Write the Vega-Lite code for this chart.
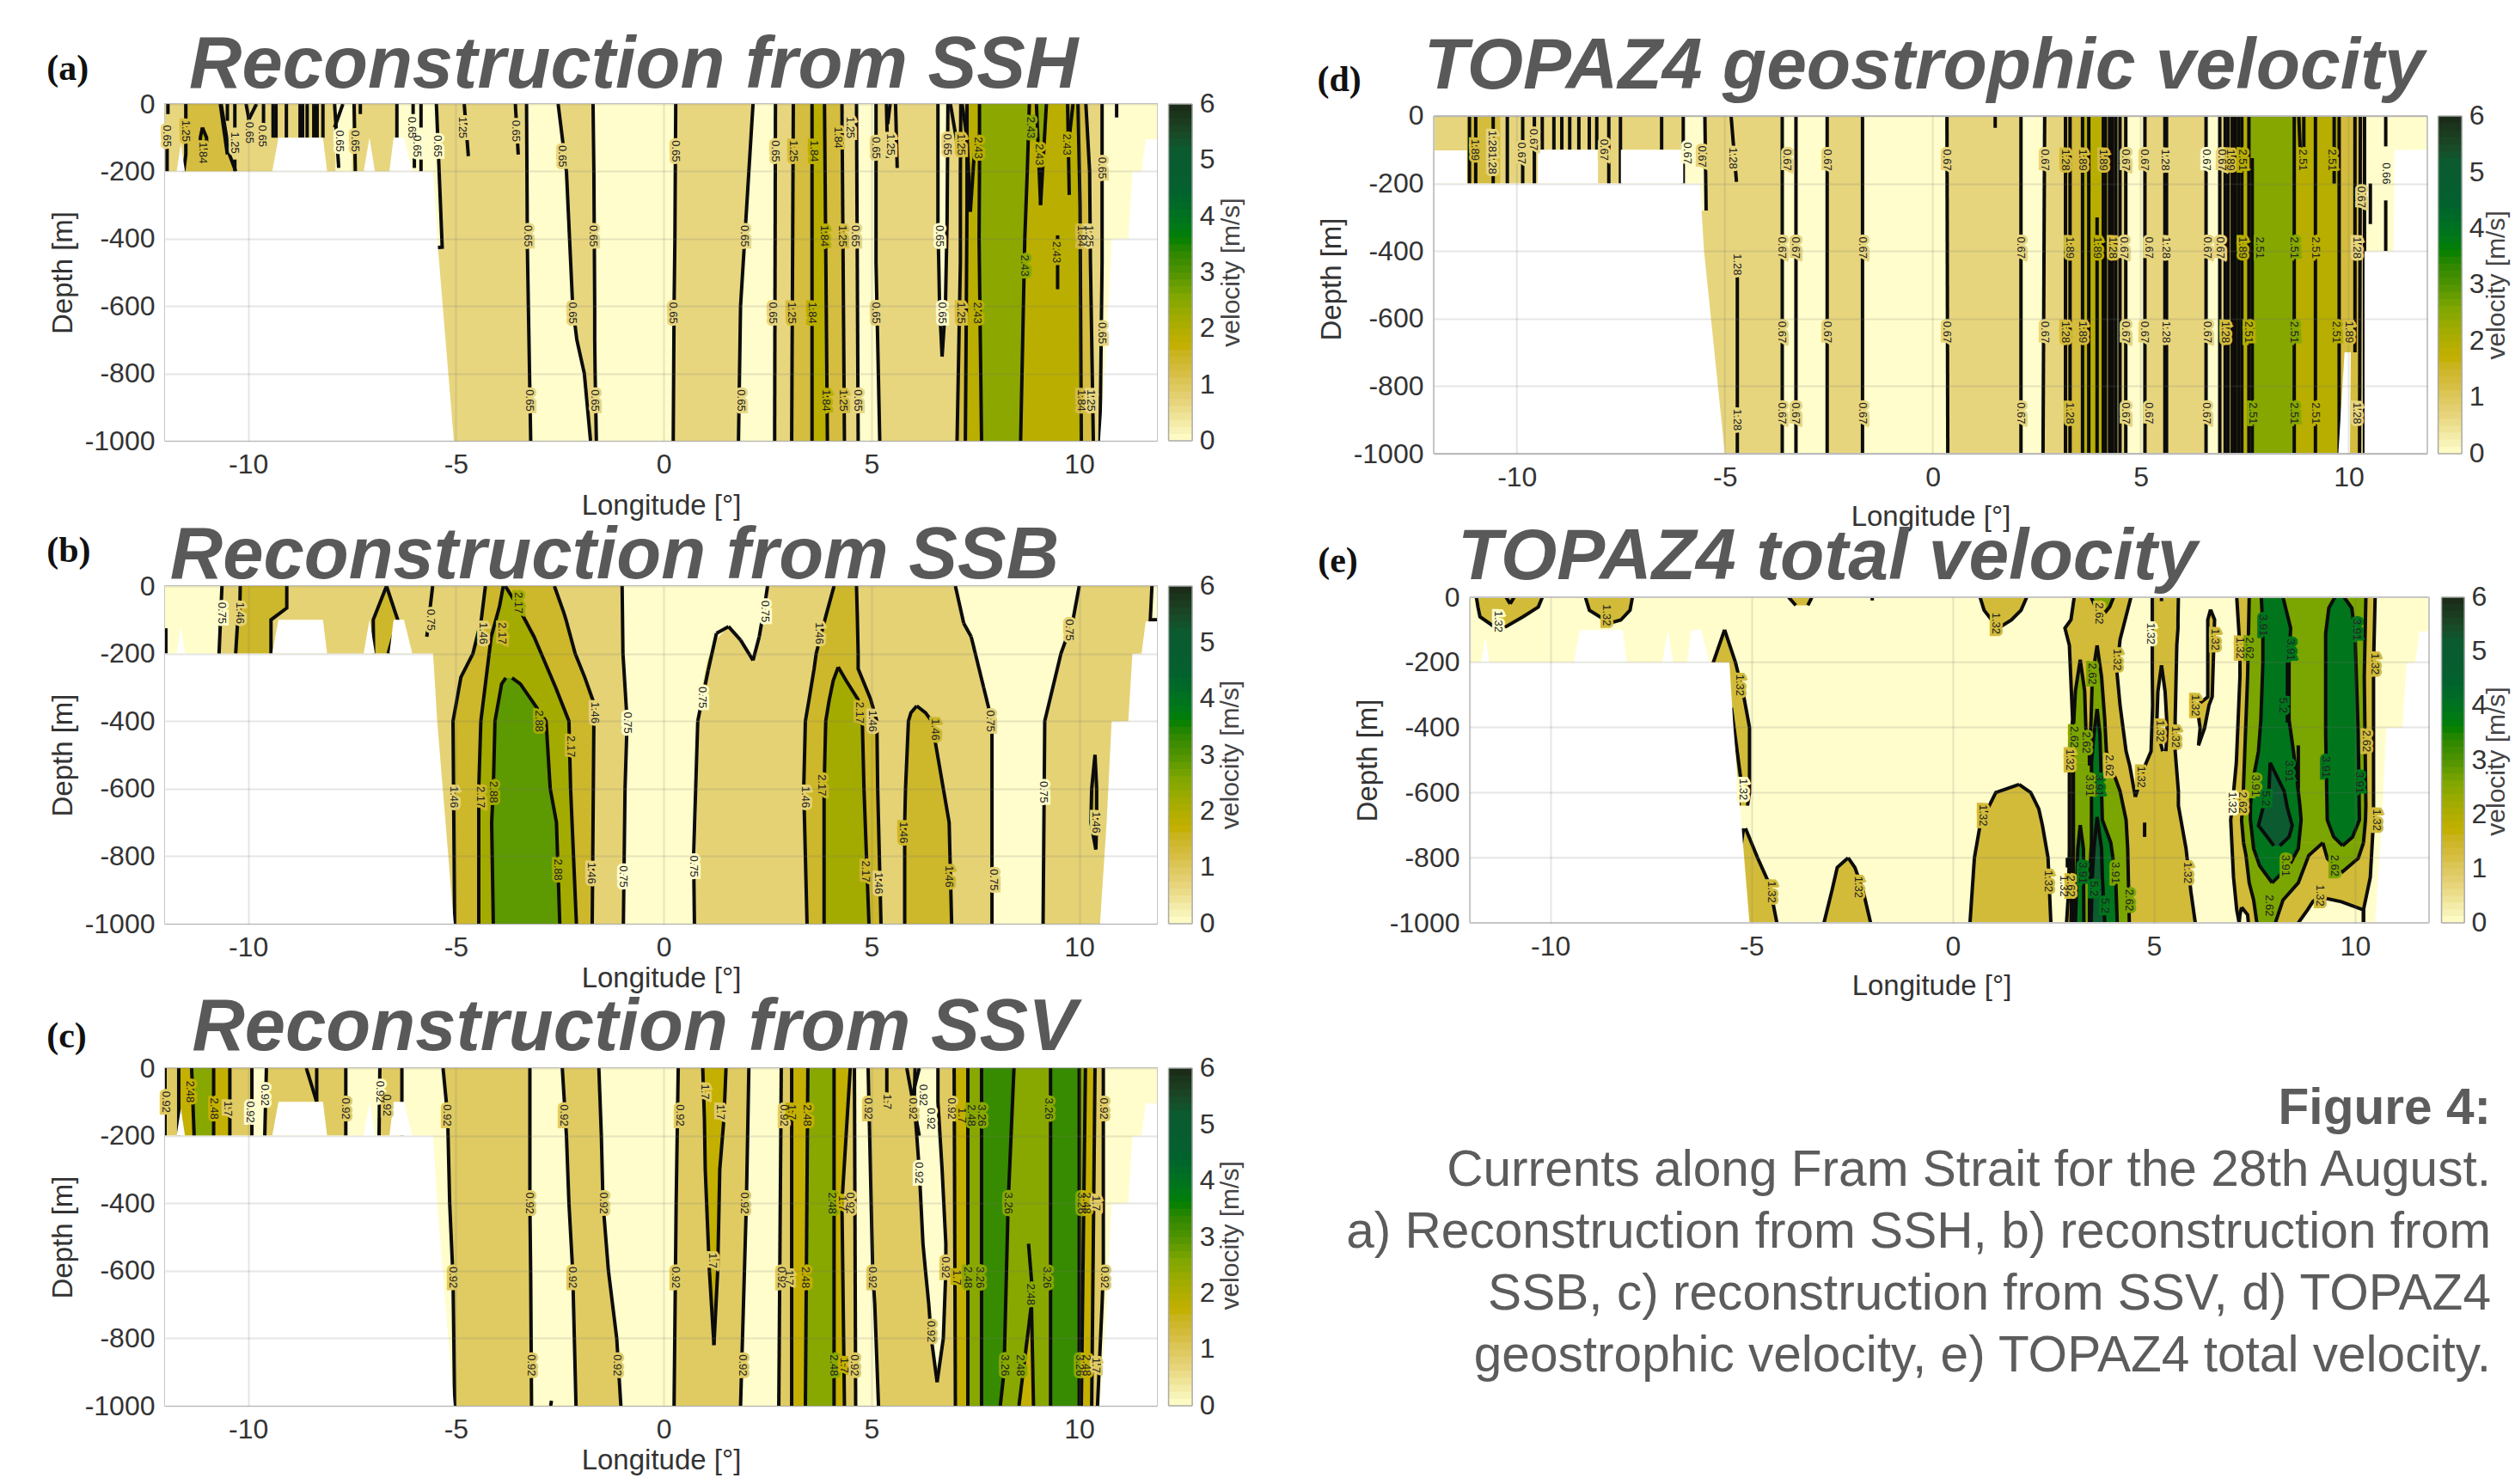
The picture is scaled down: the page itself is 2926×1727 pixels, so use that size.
{"$schema":"https://vega.github.io/schema/vega-lite/v6.json","background":"white","padding":{"left":53,"top":33,"right":0,"bottom":0},"spacing":82,"config":{"view":{"stroke":"#c6c6c6","strokeWidth":2},"font":"Liberation Sans","axis":{"labelFont":"Liberation Sans","titleFont":"Liberation Sans","labelFontSize":32,"titleFontSize":33,"labelColor":"#333333","titleColor":"#333333","titleFontWeight":"normal","domain":false,"ticks":false,"grid":true,"gridColor":"#777777","gridOpacity":0.18,"gridWidth":2,"labelOverlap":false,"labelFlush":false},"line":{"strokeWidth":4,"color":"#0c0c0c"},"rule":{"strokeWidth":4,"color":"#0c0c0c"},"text":{"font":"Liberation Sans"}},"datasets":{
"cb":[{"v":0.06,"x":12.15,"x2":12.72,"y":-1000,"y2":-975},{"v":0.19,"x":12.15,"x2":12.72,"y":-979.2,"y2":-954},{"v":0.31,"x":12.15,"x2":12.72,"y":-958.3,"y2":-933},{"v":0.44,"x":12.15,"x2":12.72,"y":-937.5,"y2":-912},{"v":0.56,"x":12.15,"x2":12.72,"y":-916.7,"y2":-891},{"v":0.69,"x":12.15,"x2":12.72,"y":-895.8,"y2":-870},{"v":0.81,"x":12.15,"x2":12.72,"y":-875,"y2":-850},{"v":0.94,"x":12.15,"x2":12.72,"y":-854.2,"y2":-829},{"v":1.06,"x":12.15,"x2":12.72,"y":-833.3,"y2":-808},{"v":1.19,"x":12.15,"x2":12.72,"y":-812.5,"y2":-787},{"v":1.31,"x":12.15,"x2":12.72,"y":-791.7,"y2":-766},{"v":1.44,"x":12.15,"x2":12.72,"y":-770.8,"y2":-745},{"v":1.56,"x":12.15,"x2":12.72,"y":-750,"y2":-725},{"v":1.69,"x":12.15,"x2":12.72,"y":-729.2,"y2":-704},{"v":1.81,"x":12.15,"x2":12.72,"y":-708.3,"y2":-683},{"v":1.94,"x":12.15,"x2":12.72,"y":-687.5,"y2":-662},{"v":2.06,"x":12.15,"x2":12.72,"y":-666.7,"y2":-641},{"v":2.19,"x":12.15,"x2":12.72,"y":-645.8,"y2":-620},{"v":2.31,"x":12.15,"x2":12.72,"y":-625,"y2":-600},{"v":2.44,"x":12.15,"x2":12.72,"y":-604.2,"y2":-579},{"v":2.56,"x":12.15,"x2":12.72,"y":-583.3,"y2":-558},{"v":2.69,"x":12.15,"x2":12.72,"y":-562.5,"y2":-537},{"v":2.81,"x":12.15,"x2":12.72,"y":-541.7,"y2":-516},{"v":2.94,"x":12.15,"x2":12.72,"y":-520.8,"y2":-495},{"v":3.06,"x":12.15,"x2":12.72,"y":-500,"y2":-475},{"v":3.19,"x":12.15,"x2":12.72,"y":-479.2,"y2":-454},{"v":3.31,"x":12.15,"x2":12.72,"y":-458.3,"y2":-433},{"v":3.44,"x":12.15,"x2":12.72,"y":-437.5,"y2":-412},{"v":3.56,"x":12.15,"x2":12.72,"y":-416.7,"y2":-391},{"v":3.69,"x":12.15,"x2":12.72,"y":-395.8,"y2":-370},{"v":3.81,"x":12.15,"x2":12.72,"y":-375,"y2":-350},{"v":3.94,"x":12.15,"x2":12.72,"y":-354.2,"y2":-329},{"v":4.06,"x":12.15,"x2":12.72,"y":-333.3,"y2":-308},{"v":4.19,"x":12.15,"x2":12.72,"y":-312.5,"y2":-287},{"v":4.31,"x":12.15,"x2":12.72,"y":-291.7,"y2":-266},{"v":4.44,"x":12.15,"x2":12.72,"y":-270.8,"y2":-245},{"v":4.56,"x":12.15,"x2":12.72,"y":-250,"y2":-225},{"v":4.69,"x":12.15,"x2":12.72,"y":-229.2,"y2":-204},{"v":4.81,"x":12.15,"x2":12.72,"y":-208.3,"y2":-183},{"v":4.94,"x":12.15,"x2":12.72,"y":-187.5,"y2":-162},{"v":5.06,"x":12.15,"x2":12.72,"y":-166.7,"y2":-141},{"v":5.19,"x":12.15,"x2":12.72,"y":-145.8,"y2":-120},{"v":5.31,"x":12.15,"x2":12.72,"y":-125,"y2":-100},{"v":5.44,"x":12.15,"x2":12.72,"y":-104.2,"y2":-79},{"v":5.56,"x":12.15,"x2":12.72,"y":-83.3,"y2":-58},{"v":5.69,"x":12.15,"x2":12.72,"y":-62.5,"y2":-37},{"v":5.81,"x":12.15,"x2":12.72,"y":-41.7,"y2":-16},{"v":5.94,"x":12.15,"x2":12.72,"y":-20.8,"y2":0}],
"cf":[{"x":12.15,"x2":12.72,"y":0,"y2":0},{"x":12.15,"x2":12.72,"y":-1000,"y2":-1000},{"x":12.15,"x2":12.15,"y":0,"y2":-1000},{"x":12.72,"x2":12.72,"y":0,"y2":-1000}],
"cl":[{"x":12.9,"y":-1000,"t":"0"},{"x":12.9,"y":-833.3,"t":"1"},{"x":12.9,"y":-666.7,"t":"2"},{"x":12.9,"y":-500,"t":"3"},{"x":12.9,"y":-333.3,"t":"4"},{"x":12.9,"y":-166.7,"t":"5"},{"x":12.9,"y":0,"t":"6"}],
"land":[{"id":"L1","d":-200,"l":-13,"r":-5.55},{"id":"L1","d":-400,"l":-13,"r":-5.45},{"id":"L1","d":-700,"l":-13,"r":-5.25},{"id":"L1","d":-1000,"l":-13,"r":-5.05},{"id":"L2","d":-100,"l":-9.27,"r":-8.2},{"id":"L2","d":-200,"l":-9.42,"r":-8.1},{"id":"L3","d":-100,"l":-7.08,"r":-7.08},{"id":"L3","d":-200,"l":-7.22,"r":-6.95},{"id":"L4","d":-100,"l":-6.5,"r":-6.25},{"id":"L4","d":-200,"l":-6.6,"r":-6.05},{"id":"L5","d":-120,"l":-11.62,"r":-11.62},{"id":"L5","d":-200,"l":-11.72,"r":-11.52},{"id":"L6","d":-105,"l":11.6,"r":13},{"id":"L6","d":-200,"l":11.5,"r":13},{"id":"L6","d":-201,"l":11.28,"r":13},{"id":"L6","d":-400,"l":11.18,"r":13},{"id":"L6","d":-401,"l":10.78,"r":13},{"id":"L6","d":-700,"l":10.66,"r":13},{"id":"L6","d":-1000,"l":10.5,"r":13}],
"landd":[{"id":"L1","d":-200,"l":-13,"r":-5.6},{"id":"L1","d":-400,"l":-13,"r":-5.5},{"id":"L1","d":-700,"l":-13,"r":-5.25},{"id":"L1","d":-1000,"l":-13,"r":-5.0},{"id":"L2","d":-100,"l":-9.5,"r":-8.05},{"id":"L2","d":-200,"l":-9.5,"r":-8.05},{"id":"L3","d":-100,"l":-7.5,"r":-6.0},{"id":"L3","d":-200,"l":-7.5,"r":-6.0},{"id":"L4","d":-101,"l":-13,"r":-13},{"id":"L4","d":-102,"l":-13,"r":-11.2},{"id":"L4","d":-200,"l":-13,"r":-11.2},{"id":"L6","d":-100,"l":11.36,"r":13},{"id":"L6","d":-101,"l":11.1,"r":13},{"id":"L6","d":-400,"l":11.08,"r":13},{"id":"L6","d":-401,"l":10.38,"r":13},{"id":"L6","d":-1000,"l":10.38,"r":13},{"id":"L7","d":-700,"l":9.9,"r":10.05},{"id":"L7","d":-1000,"l":9.75,"r":10.03}],
"ra":[{"id":"a0","v":0,"d":0,"l":-13,"r":13},{"id":"a0","v":0,"d":-1000,"l":-13,"r":13},{"id":"a1","v":0.65,"d":0,"l":-13,"r":-6.42},{"id":"a1","v":0.65,"d":-200,"l":-13,"r":-6.42},{"id":"a1b","v":0,"d":0,"l":-7.9,"r":-7.5},{"id":"a1b","v":0,"d":-200,"l":-7.9,"r":-7.5},{"id":"a2","v":1.25,"e":1,"d":0,"l":-11.5,"r":-10.65},{"id":"a2","v":1.25,"e":1,"d":-150,"l":-11.5,"r":-10.45},{"id":"a2","v":1.25,"e":1,"d":-200,"l":-11.55,"r":-10.3},{"id":"a2b","v":1.84,"e":1,"d":-70,"l":-11.1,"r":-11.1},{"id":"a2b","v":1.84,"e":1,"d":-100,"l":-11.15,"r":-11},{"id":"a2b","v":1.84,"e":1,"d":-130,"l":-11.15,"r":-11},{"id":"a2b","v":1.84,"e":1,"d":-150,"l":-11.1,"r":-11.1},{"id":"a3","v":0.65,"e":1,"d":0,"l":-5.47,"r":-3.3},{"id":"a3","v":0.65,"e":1,"d":-425,"l":-5.33,"r":-3.28},{"id":"a3","v":0.65,"e":1,"d":-430,"l":-5.8,"r":-3.28},{"id":"a3","v":0.65,"e":1,"d":-1000,"l":-5.8,"r":-3.2},{"id":"a4","v":0.65,"e":1,"d":0,"l":-2.54,"r":-1.7},{"id":"a4","v":0.65,"e":1,"d":-200,"l":-2.34,"r":-1.68},{"id":"a4","v":0.65,"e":1,"d":-600,"l":-2.19,"r":-1.66},{"id":"a4","v":0.65,"e":1,"d":-700,"l":-2.09,"r":-1.66},{"id":"a4","v":0.65,"e":1,"d":-800,"l":-1.91,"r":-1.65},{"id":"a4","v":0.65,"e":1,"d":-1000,"l":-1.76,"r":-1.62},{"id":"a5","v":0.65,"e":1,"d":0,"l":0.29,"r":2.15},{"id":"a5","v":0.65,"e":1,"d":-200,"l":0.28,"r":2.05},{"id":"a5","v":0.65,"e":1,"d":-400,"l":0.27,"r":1.95},{"id":"a5","v":0.65,"e":1,"d":-600,"l":0.25,"r":1.85},{"id":"a5","v":0.65,"e":1,"d":-1000,"l":0.23,"r":1.8},{"id":"a6","v":0.65,"e":1,"d":0,"l":2.69,"r":4.64},{"id":"a6","v":0.65,"e":1,"d":-1000,"l":2.67,"r":4.68},{"id":"a7","v":1.25,"e":1,"d":0,"l":3.12,"r":4.29},{"id":"a7","v":1.25,"e":1,"d":-1000,"l":3.08,"r":4.35},{"id":"a8","v":1.84,"e":1,"d":0,"l":3.57,"r":3.87},{"id":"a8","v":1.84,"e":1,"d":-1000,"l":3.57,"r":3.94},{"id":"a9","v":0.65,"e":1,"d":0,"l":5.11,"r":10.55},{"id":"a9","v":0.65,"e":1,"d":-470,"l":5.11,"r":10.55},{"id":"a9","v":0.65,"e":1,"d":-1000,"l":5.2,"r":10.5},{"id":"a10","v":0,"e":1,"d":0,"l":6.6,"r":6.84},{"id":"a10","v":0,"e":1,"d":-350,"l":6.6,"r":6.82},{"id":"a10","v":0,"e":1,"d":-600,"l":6.64,"r":6.78},{"id":"a10","v":0,"e":1,"d":-750,"l":6.7,"r":6.7},{"id":"a11","v":1.25,"e":1,"d":0,"l":7.15,"r":10.16},{"id":"a11","v":1.25,"e":1,"d":-200,"l":7.14,"r":10.25},{"id":"a11","v":1.25,"e":1,"d":-470,"l":7.14,"r":10.27},{"id":"a11","v":1.25,"e":1,"d":-1000,"l":7.06,"r":10.34},{"id":"a12","v":1.84,"e":1,"d":0,"l":7.3,"r":9.97},{"id":"a12","v":1.84,"e":1,"d":-300,"l":7.3,"r":10.02},{"id":"a12","v":1.84,"e":1,"d":-1000,"l":7.26,"r":10.05},{"id":"a13","v":2.43,"e":1,"d":0,"l":7.6,"r":8.8},{"id":"a13","v":2.43,"e":1,"d":-200,"l":7.6,"r":8.75},{"id":"a13","v":2.43,"e":1,"d":-400,"l":7.59,"r":8.69},{"id":"a13","v":2.43,"e":1,"d":-1000,"l":7.65,"r":8.59},{"id":"a14","v":2.43,"e":1,"d":0,"l":8.97,"r":9.21},{"id":"a14","v":2.43,"e":1,"d":-300,"l":9.07,"r":9.07}],
"ua":[{"x":-10.67,"x2":-10.5,"y":0,"y2":-150},{"x":-11.93,"x2":-11.93,"y":0,"y2":-30},{"x":-11.95,"x2":-11.95,"y":-125,"y2":-200},{"x":-10.5,"x2":-10.5,"y":0,"y2":-50},{"x":-10.32,"x2":-10.32,"y":0,"y2":-70},{"x":-10.32,"x2":-10.32,"y":-165,"y2":-200},{"x":-10.05,"x2":-9.9,"y":0,"y2":-100},{"x":-9.8,"x2":-10,"y":0,"y2":-50},{"x":-9.63,"x2":-9.63,"y":0,"y2":-110},{"x":-9.4,"x2":-9.4,"y":0,"y2":-100},{"x":-9.33,"x2":-9.33,"y":0,"y2":-100},{"x":-9.08,"x2":-9.08,"y":0,"y2":-100},{"x":-8.75,"x2":-8.75,"y":0,"y2":-100},{"x":-8.69,"x2":-8.69,"y":0,"y2":-100},{"x":-8.58,"x2":-8.58,"y":0,"y2":-100},{"x":-8.42,"x2":-8.42,"y":0,"y2":-100},{"x":-8.34,"x2":-8.34,"y":0,"y2":-100},{"x":-8.2,"x2":-8.2,"y":0,"y2":-100},{"x":-7.92,"x2":-7.82,"y":0,"y2":-190},{"x":-7.72,"x2":-7.92,"y":0,"y2":-70},{"x":-7.45,"x2":-7.42,"y":0,"y2":-200},{"x":-7.3,"x2":-7.3,"y":0,"y2":-30},{"x":-6.42,"x2":-6.42,"y":0,"y2":-100},{"x":-6.03,"x2":-6.03,"y":0,"y2":-30},{"x":-6,"x2":-6,"y":-150,"y2":-190},{"x":-5.84,"x2":-5.84,"y":0,"y2":-70},{"x":-5.84,"x2":-5.84,"y":-165,"y2":-200},{"x":-4.8,"x2":-4.7,"y":0,"y2":-155},{"x":-3.57,"x2":-3.5,"y":0,"y2":-150},{"x":5.36,"x2":5.39,"y":0,"y2":-160},{"x":5.45,"x2":5.39,"y":0,"y2":-60},{"x":5.58,"x2":5.62,"y":0,"y2":-190},{"x":6.9,"x2":7.05,"y":0,"y2":-110},{"x":7.18,"x2":7.3,"y":0,"y2":-100},{"x":7.3,"x2":7.38,"y":-100,"y2":-320},{"x":7.5,"x2":7.38,"y":-100,"y2":-320},{"x":9.72,"x2":9.76,"y":0,"y2":-270},{"x":9.85,"x2":9.76,"y":0,"y2":-100},{"x":9.48,"x2":9.48,"y":-390,"y2":-550},{"x":10.9,"x2":10.9,"y":0,"y2":-40}],
"ta":[{"x":-11.95,"d":-95,"t":"0.65","v":0.65},{"x":-11.5,"d":-80,"t":"1.25","v":1.25},{"x":-11.1,"d":-145,"t":"1.84","v":1.25},{"x":-10.32,"d":-115,"t":"1.25","v":0.65},{"x":-9.97,"d":-85,"t":"0.65","v":0.65},{"x":-9.66,"d":-95,"t":"0.65","v":0.65},{"x":-7.8,"d":-110,"t":"0.65","v":0},{"x":-7.42,"d":-110,"t":"0.65","v":0.65},{"x":-6.06,"d":-70,"t":"0.65","v":0},{"x":-5.94,"d":-125,"t":"0.65","v":0},{"x":-5.44,"d":-125,"t":"0.65","v":0},{"x":-4.84,"d":-70,"t":"1.25","v":0.65},{"x":-3.57,"d":-80,"t":"0.65","v":0.65},{"x":-2.44,"d":-155,"t":"0.65","v":0.65},{"x":0.29,"d":-140,"t":"0.65","v":0.65},{"x":2.69,"d":-140,"t":"0.65","v":0.65},{"x":3.12,"d":-140,"t":"1.25","v":1.25},{"x":3.61,"d":-140,"t":"1.84","v":1.84},{"x":4.2,"d":-100,"t":"1.84","v":1.25},{"x":4.49,"d":-70,"t":"1.25","v":0.65},{"x":5.11,"d":-130,"t":"0.65","v":0.65},{"x":5.46,"d":-120,"t":"1.25","v":0.65},{"x":6.83,"d":-120,"t":"0.65","v":0.65},{"x":7.16,"d":-120,"t":"1.25","v":1.25},{"x":7.57,"d":-130,"t":"2.43","v":1.84},{"x":8.82,"d":-70,"t":"2.43","v":2.43},{"x":9.03,"d":-150,"t":"2.43","v":1.84},{"x":9.7,"d":-120,"t":"2.43","v":1.84},{"x":10.54,"d":-190,"t":"0.65","v":0.65},{"x":-3.28,"d":-392,"t":"0.65","v":0.65},{"x":-1.7,"d":-392,"t":"0.65","v":0.65},{"x":1.95,"d":-392,"t":"0.65","v":0.65},{"x":3.86,"d":-392,"t":"1.84","v":1.84},{"x":4.29,"d":-392,"t":"1.25","v":1.25},{"x":4.6,"d":-392,"t":"0.65","v":0.65},{"x":6.63,"d":-392,"t":"0.65","v":0},{"x":8.68,"d":-480,"t":"2.43","v":2.43},{"x":9.46,"d":-440,"t":"2.43","v":1.84},{"x":10.05,"d":-392,"t":"1.84","v":1.25},{"x":10.24,"d":-392,"t":"1.25","v":0.65},{"x":-2.19,"d":-620,"t":"0.65","v":0.65},{"x":0.23,"d":-620,"t":"0.65","v":0.65},{"x":2.63,"d":-620,"t":"0.65","v":0.65},{"x":3.08,"d":-620,"t":"1.25","v":1.25},{"x":3.57,"d":-620,"t":"1.84","v":1.84},{"x":5.11,"d":-620,"t":"0.65","v":0.65},{"x":6.69,"d":-620,"t":"0.65","v":0},{"x":7.16,"d":-620,"t":"1.25","v":1.25},{"x":7.55,"d":-620,"t":"2.43","v":1.84},{"x":10.54,"d":-680,"t":"0.65","v":0.65},{"x":-3.22,"d":-880,"t":"0.65","v":0.65},{"x":-1.66,"d":-880,"t":"0.65","v":0.65},{"x":1.85,"d":-880,"t":"0.65","v":0.65},{"x":3.9,"d":-880,"t":"1.84","v":1.84},{"x":4.33,"d":-880,"t":"1.25","v":1.25},{"x":4.68,"d":-880,"t":"0.65","v":0.65},{"x":10.05,"d":-880,"t":"1.84","v":1.25},{"x":10.28,"d":-880,"t":"1.25","v":0.65}],
"rb":[{"id":"b0","v":0,"d":0,"l":-13,"r":13},{"id":"b0","v":0,"d":-1000,"l":-13,"r":13},{"id":"b1","v":0.75,"e":1,"d":0,"l":-10.63,"r":-1},{"id":"b1","v":0.75,"e":1,"d":-200,"l":-10.7,"r":-0.98},{"id":"b1","v":0.75,"e":1,"d":-400,"l":-10.7,"r":-0.88},{"id":"b1","v":0.75,"e":1,"d":-600,"l":-10.7,"r":-0.93},{"id":"b1","v":0.75,"e":1,"d":-1000,"l":-10.7,"r":-0.97},{"id":"b2","v":1.46,"e":1,"d":0,"l":-10.19,"r":-9.07},{"id":"b2","v":1.46,"e":1,"d":-65,"l":-10.2,"r":-9.07},{"id":"b2","v":1.46,"e":1,"d":-100,"l":-10.25,"r":-9.45},{"id":"b2","v":1.46,"e":1,"d":-200,"l":-10.3,"r":-9.45},{"id":"b3","v":1.46,"e":1,"d":0,"l":-6.67,"r":-6.67},{"id":"b3","v":1.46,"e":1,"d":-100,"l":-6.99,"r":-6.4},{"id":"b3","v":1.46,"e":1,"d":-200,"l":-6.98,"r":-6.63},{"id":"b4","v":1.46,"e":1,"d":0,"l":-4.29,"r":-2.63},{"id":"b4","v":1.46,"e":1,"d":-80,"l":-4.37,"r":-2.4},{"id":"b4","v":1.46,"e":1,"d":-100,"l":-4.39,"r":-2.35},{"id":"b4","v":1.46,"e":1,"d":-200,"l":-4.59,"r":-2.13},{"id":"b4","v":1.46,"e":1,"d":-270,"l":-4.88,"r":-1.9},{"id":"b4","v":1.46,"e":1,"d":-353,"l":-5,"r":-1.66},{"id":"b4","v":1.46,"e":1,"d":-400,"l":-5.07,"r":-1.68},{"id":"b4","v":1.46,"e":1,"d":-1000,"l":-5.03,"r":-1.72},{"id":"b5","v":2.17,"e":1,"d":0,"l":-3.86,"r":-3.81},{"id":"b5","v":2.17,"e":1,"d":-60,"l":-3.95,"r":-3.51},{"id":"b5","v":2.17,"e":1,"d":-150,"l":-4.15,"r":-3.12},{"id":"b5","v":2.17,"e":1,"d":-300,"l":-4.3,"r":-2.6},{"id":"b5","v":2.17,"e":1,"d":-400,"l":-4.4,"r":-2.28},{"id":"b5","v":2.17,"e":1,"d":-600,"l":-4.45,"r":-2.24},{"id":"b5","v":2.17,"e":1,"d":-1000,"l":-4.45,"r":-2.1},{"id":"b6","v":2.88,"e":1,"d":-272,"l":-3.8,"r":-3.65},{"id":"b6","v":2.88,"e":1,"d":-290,"l":-3.9,"r":-3.45},{"id":"b6","v":2.88,"e":1,"d":-400,"l":-4.06,"r":-2.83},{"id":"b6","v":2.88,"e":1,"d":-600,"l":-4.1,"r":-2.73},{"id":"b6","v":2.88,"e":1,"d":-700,"l":-4.14,"r":-2.58},{"id":"b6","v":2.88,"e":1,"d":-1000,"l":-4.1,"r":-2.5},{"id":"b7","v":0.75,"d":-120,"l":1.56,"r":1.56},{"id":"b7","v":0.75,"d":-160,"l":1.25,"r":1.85},{"id":"b7","v":0.75,"d":-220,"l":1.05,"r":2.15},{"id":"b7","v":0.75,"d":-350,"l":0.85,"r":3},{"id":"b7","v":0.75,"d":-1000,"l":0.74,"r":3},{"id":"b8","v":0.75,"d":0,"l":2.5,"r":7.02},{"id":"b8","v":0.75,"d":-50,"l":2.44,"r":7.1},{"id":"b8","v":0.75,"d":-110,"l":2.37,"r":7.22},{"id":"b8","v":0.75,"d":-150,"l":2.3,"r":7.4},{"id":"b8","v":0.75,"d":-220,"l":2.15,"r":7.55},{"id":"b8","v":0.75,"d":-300,"l":2.15,"r":7.7},{"id":"b8","v":0.75,"d":-400,"l":2.15,"r":7.9},{"id":"b8","v":0.75,"d":-1000,"l":2.15,"r":7.9},{"id":"b9","v":1.46,"e":1,"d":0,"l":4.1,"r":4.64},{"id":"b9","v":1.46,"e":1,"d":-90,"l":3.9,"r":4.66},{"id":"b9","v":1.46,"e":1,"d":-200,"l":3.67,"r":4.68},{"id":"b9","v":1.46,"e":1,"d":-245,"l":3.62,"r":4.68},{"id":"b9","v":1.46,"e":1,"d":-335,"l":3.5,"r":4.98},{"id":"b9","v":1.46,"e":1,"d":-400,"l":3.41,"r":5.13},{"id":"b9","v":1.46,"e":1,"d":-600,"l":3.37,"r":5.15},{"id":"b9","v":1.46,"e":1,"d":-1000,"l":3.45,"r":5.23},{"id":"b10","v":2.17,"e":1,"d":-240,"l":4.2,"r":4.2},{"id":"b10","v":2.17,"e":1,"d":-280,"l":4.08,"r":4.39},{"id":"b10","v":2.17,"e":1,"d":-340,"l":3.98,"r":4.7},{"id":"b10","v":2.17,"e":1,"d":-400,"l":3.9,"r":4.78},{"id":"b10","v":2.17,"e":1,"d":-600,"l":3.86,"r":4.82},{"id":"b10","v":2.17,"e":1,"d":-1000,"l":3.86,"r":4.94},{"id":"b11","v":1.46,"e":1,"d":-355,"l":6.09,"r":6.09},{"id":"b11","v":1.46,"e":1,"d":-375,"l":5.95,"r":6.3},{"id":"b11","v":1.46,"e":1,"d":-400,"l":5.89,"r":6.45},{"id":"b11","v":1.46,"e":1,"d":-600,"l":5.82,"r":6.73},{"id":"b11","v":1.46,"e":1,"d":-700,"l":5.8,"r":6.87},{"id":"b11","v":1.46,"e":1,"d":-1000,"l":5.8,"r":6.93},{"id":"b12","v":0.75,"e":1,"d":0,"l":10,"r":11.75},{"id":"b12","v":0.75,"e":1,"d":-100,"l":9.85,"r":11.71},{"id":"b12","v":0.75,"e":1,"d":-101,"l":9.85,"r":13},{"id":"b12","v":0.75,"e":1,"d":-200,"l":9.56,"r":13},{"id":"b12","v":0.75,"e":1,"d":-400,"l":9.17,"r":13},{"id":"b12","v":0.75,"e":1,"d":-1000,"l":9.13,"r":13},{"id":"b13","v":1.46,"e":1,"d":-500,"l":10.38,"r":10.38},{"id":"b13","v":1.46,"e":1,"d":-600,"l":10.3,"r":10.42},{"id":"b13","v":1.46,"e":1,"d":-700,"l":10.28,"r":10.42},{"id":"b13","v":1.46,"e":1,"d":-780,"l":10.4,"r":10.4}],
"ub":[{"x":-11.98,"x2":-11.98,"y":-125,"y2":-200},{"x":-5.56,"x2":-5.7,"y":0,"y2":-150},{"x":0.74,"x2":0.72,"y":-1000,"y2":-800},{"x":0.72,"x2":0.82,"y":-800,"y2":-400},{"x":0.82,"x2":1.07,"y":-400,"y2":-250},{"x":1.07,"x2":1.27,"y":-250,"y2":-140},{"x":1.27,"x2":1.56,"y":-140,"y2":-120},{"x":1.56,"x2":1.85,"y":-120,"y2":-160},{"x":1.85,"x2":2.15,"y":-160,"y2":-220},{"x":2.15,"x2":2.3,"y":-220,"y2":-150},{"x":2.3,"x2":2.44,"y":-150,"y2":-50},{"x":2.44,"x2":2.5,"y":-50,"y2":0},{"x":7.02,"x2":7.22,"y":0,"y2":-110},{"x":7.22,"x2":7.4,"y":-110,"y2":-150},{"x":7.4,"x2":7.7,"y":-150,"y2":-300},{"x":7.7,"x2":7.9,"y":-300,"y2":-400},{"x":7.9,"x2":7.9,"y":-400,"y2":-1000}],
"tb":[{"x":-10.63,"d":-80,"t":"0.75","v":0},{"x":-10.2,"d":-80,"t":"1.46","v":0.75},{"x":-5.6,"d":-100,"t":"0.75","v":0.75},{"x":-4.35,"d":-140,"t":"1.46","v":0.75},{"x":-3.9,"d":-140,"t":"2.17","v":1.46},{"x":-3.5,"d":-50,"t":"2.17","v":2.17},{"x":-3.0,"d":-400,"t":"2.88","v":2.17},{"x":-1.66,"d":-375,"t":"1.46","v":0.75},{"x":-0.88,"d":-405,"t":"0.75","v":0},{"x":-2.24,"d":-475,"t":"2.17","v":1.46},{"x":-5.05,"d":-625,"t":"1.46","v":0.75},{"x":-4.4,"d":-625,"t":"2.17","v":1.46},{"x":-4.1,"d":-610,"t":"2.88","v":2.17},{"x":-2.55,"d":-840,"t":"2.88","v":2.17},{"x":-1.75,"d":-850,"t":"1.46","v":0.75},{"x":-0.98,"d":-860,"t":"0.75","v":0},{"x":0.93,"d":-330,"t":"0.75","v":0},{"x":0.72,"d":-830,"t":"0.75","v":0},{"x":2.44,"d":-75,"t":"0.75","v":0},{"x":3.75,"d":-140,"t":"1.46","v":0.75},{"x":3.41,"d":-625,"t":"1.46","v":0.75},{"x":3.8,"d":-590,"t":"2.17","v":1.46},{"x":4.72,"d":-375,"t":"2.17","v":1.46},{"x":5.03,"d":-400,"t":"1.46","v":0.75},{"x":4.86,"d":-845,"t":"2.17","v":1.46},{"x":5.17,"d":-880,"t":"1.46","v":0.75},{"x":6.54,"d":-425,"t":"1.46","v":1.46},{"x":5.76,"d":-730,"t":"1.46","v":1.46},{"x":6.87,"d":-860,"t":"1.46","v":1.46},{"x":7.85,"d":-400,"t":"0.75","v":0.75},{"x":7.95,"d":-870,"t":"0.75","v":0.75},{"x":9.75,"d":-130,"t":"0.75","v":0.75},{"x":9.13,"d":-610,"t":"0.75","v":0},{"x":10.4,"d":-700,"t":"1.46","v":0.75}],
"rc":[{"id":"c0","v":0,"d":0,"l":-13,"r":13},{"id":"c0","v":0,"d":-1000,"l":-13,"r":13},{"id":"c1","v":0.92,"e":1,"d":0,"l":-12,"r":-9.91},{"id":"c1","v":0.92,"e":1,"d":-200,"l":-12,"r":-9.91},{"id":"c2","v":1.7,"e":1,"d":0,"l":-11.67,"r":-10.44},{"id":"c2","v":1.7,"e":1,"d":-200,"l":-11.67,"r":-10.44},{"id":"c3","v":2.48,"e":1,"d":0,"l":-11.36,"r":-10.83},{"id":"c3","v":2.48,"e":1,"d":-200,"l":-11.3,"r":-10.83},{"id":"c4","v":0.92,"e":1,"d":0,"l":-9.56,"r":-7.65},{"id":"c4","v":0.92,"e":1,"d":-200,"l":-9.6,"r":-7.65},{"id":"c5","v":0.92,"e":1,"d":0,"l":-6.83,"r":-6.3},{"id":"c5","v":0.92,"e":1,"d":-200,"l":-6.85,"r":-6.3},{"id":"c6","v":0.92,"e":1,"d":0,"l":-5.31,"r":-3.22},{"id":"c6","v":0.92,"e":1,"d":-140,"l":-5.2,"r":-3.22},{"id":"c6","v":0.92,"e":1,"d":-400,"l":-5.15,"r":-3.22},{"id":"c6","v":0.92,"e":1,"d":-620,"l":-5.07,"r":-3.2},{"id":"c6","v":0.92,"e":1,"d":-1000,"l":-5.03,"r":-3.18},{"id":"c7","v":0.92,"e":1,"d":0,"l":-2.44,"r":-1.56},{"id":"c7","v":0.92,"e":1,"d":-200,"l":-2.34,"r":-1.5},{"id":"c7","v":0.92,"e":1,"d":-400,"l":-2.28,"r":-1.46},{"id":"c7","v":0.92,"e":1,"d":-600,"l":-2.19,"r":-1.33},{"id":"c7","v":0.92,"e":1,"d":-800,"l":-2.15,"r":-1.13},{"id":"c7","v":0.92,"e":1,"d":-1000,"l":-2.11,"r":-1.03},{"id":"c8","v":0.92,"e":1,"d":0,"l":0.35,"r":2.05},{"id":"c8","v":0.92,"e":1,"d":-400,"l":0.3,"r":1.99},{"id":"c8","v":0.92,"e":1,"d":-1000,"l":0.25,"r":1.85},{"id":"c9","v":1.7,"e":1,"d":0,"l":0.94,"r":1.5},{"id":"c9","v":1.7,"e":1,"d":-150,"l":0.98,"r":1.45},{"id":"c9","v":1.7,"e":1,"d":-300,"l":1,"r":1.35},{"id":"c9","v":1.7,"e":1,"d":-600,"l":1.1,"r":1.3},{"id":"c9","v":1.7,"e":1,"d":-820,"l":1.21,"r":1.21},{"id":"c10","v":0.92,"e":1,"d":0,"l":2.83,"r":4.59},{"id":"c10","v":0.92,"e":1,"d":-1000,"l":2.77,"r":4.62},{"id":"c11","v":1.7,"e":1,"d":0,"l":3.08,"r":4.49},{"id":"c11","v":1.7,"e":1,"d":-400,"l":3.08,"r":4.29},{"id":"c11","v":1.7,"e":1,"d":-1000,"l":3.08,"r":4.35},{"id":"c12","v":2.48,"e":1,"d":0,"l":3.47,"r":4.1},{"id":"c12","v":2.48,"e":1,"d":-1000,"l":3.41,"r":4.1},{"id":"c13","v":0.92,"e":1,"d":0,"l":4.92,"r":10.58},{"id":"c13","v":0.92,"e":1,"d":-600,"l":5.03,"r":10.58},{"id":"c13","v":0.92,"e":1,"d":-700,"l":5.08,"r":10.55},{"id":"c13","v":0.92,"e":1,"d":-1000,"l":5.17,"r":10.44},{"id":"c14","v":0,"e":1,"d":0,"l":6.05,"r":6.6},{"id":"c14","v":0,"e":1,"d":-100,"l":6.03,"r":6.6},{"id":"c14","v":0,"e":1,"d":-300,"l":6.15,"r":6.7},{"id":"c14","v":0,"e":1,"d":-520,"l":6.24,"r":6.79},{"id":"c14","v":0,"e":1,"d":-600,"l":6.3,"r":6.79},{"id":"c14","v":0,"e":1,"d":-700,"l":6.38,"r":6.76},{"id":"c14","v":0,"e":1,"d":-800,"l":6.44,"r":6.73},{"id":"c14","v":0,"e":1,"d":-930,"l":6.58,"r":6.58},{"id":"c15","v":1.7,"e":1,"d":0,"l":6.99,"r":10.38},{"id":"c15","v":1.7,"e":1,"d":-1000,"l":7.02,"r":10.3},{"id":"c16","v":2.48,"e":1,"d":0,"l":7.32,"r":10.15},{"id":"c16","v":2.48,"e":1,"d":-1000,"l":7.32,"r":10.05},{"id":"c17","v":3.26,"e":1,"d":0,"l":7.65,"r":8.43},{"id":"c17","v":3.26,"e":1,"d":-400,"l":7.65,"r":8.29},{"id":"c17","v":3.26,"e":1,"d":-900,"l":7.65,"r":8.19},{"id":"c17","v":3.26,"e":1,"d":-1000,"l":7.65,"r":8.1},{"id":"c18","v":3.26,"e":1,"d":0,"l":9.31,"r":10},{"id":"c18","v":3.26,"e":1,"d":-1000,"l":9.31,"r":10},{"id":"c19","v":1.7,"e":1,"d":-700,"l":8.85,"r":8.85},{"id":"c19","v":1.7,"e":1,"d":-1000,"l":8.55,"r":8.9}],
"uc":[{"x":8.78,"x2":8.9,"y":-520,"y2":-700},{"x":-2.7,"x2":-2.72,"y":-985,"y2":-1000},{"x":5.37,"x2":5.37,"y":0,"y2":-120},{"x":5.85,"x2":6.15,"y":0,"y2":-200},{"x":6.15,"x2":5.95,"y":0,"y2":-100},{"x":-8.6,"x2":-8.35,"y":0,"y2":-100},{"x":-8.35,"x2":-8.35,"y":0,"y2":-100}],
"tc":[{"x":-11.97,"d":-100,"t":"0.92","v":0.92},{"x":-11.41,"d":-70,"t":"2.48","v":1.7},{"x":-10.83,"d":-120,"t":"2.48","v":1.7},{"x":-10.48,"d":-120,"t":"1.7","v":0.92},{"x":-9.95,"d":-130,"t":"0.92","v":0},{"x":-9.6,"d":-80,"t":"0.92","v":0},{"x":-7.65,"d":-120,"t":"0.92","v":0.92},{"x":-6.83,"d":-70,"t":"0.92","v":0},{"x":-6.67,"d":-110,"t":"0.92","v":0.92},{"x":-5.21,"d":-140,"t":"0.92","v":0.92},{"x":-2.4,"d":-140,"t":"0.92","v":0.92},{"x":0.39,"d":-140,"t":"0.92","v":0.92},{"x":0.98,"d":-70,"t":"1.7","v":0.92},{"x":1.37,"d":-130,"t":"1.7","v":0.92},{"x":2.89,"d":-140,"t":"0.92","v":0.92},{"x":3.08,"d":-130,"t":"1.7","v":1.7},{"x":3.45,"d":-140,"t":"2.48","v":1.7},{"x":4.92,"d":-120,"t":"0.92","v":0.92},{"x":5.37,"d":-100,"t":"1.7","v":0.92},{"x":6,"d":-120,"t":"0.92","v":0.92},{"x":6.24,"d":-80,"t":"0.92","v":0},{"x":6.44,"d":-150,"t":"0.92","v":0},{"x":6.93,"d":-120,"t":"0.92","v":0.92},{"x":7.18,"d":-140,"t":"1.7","v":1.7},{"x":7.41,"d":-140,"t":"2.48","v":2.48},{"x":7.65,"d":-140,"t":"3.26","v":2.48},{"x":9.27,"d":-120,"t":"3.26","v":2.48},{"x":10.58,"d":-120,"t":"0.92","v":0.92},{"x":-3.22,"d":-400,"t":"0.92","v":0.92},{"x":-1.46,"d":-400,"t":"0.92","v":0.92},{"x":1.95,"d":-400,"t":"0.92","v":0.92},{"x":4.06,"d":-400,"t":"2.48","v":2.48},{"x":4.29,"d":-400,"t":"1.7","v":1.7},{"x":4.49,"d":-400,"t":"0.92","v":0.92},{"x":8.29,"d":-400,"t":"3.26","v":2.48},{"x":10.05,"d":-400,"t":"3.26","v":2.48},{"x":10.18,"d":-400,"t":"2.48","v":1.7},{"x":10.4,"d":-400,"t":"1.7","v":0.92},{"x":6.15,"d":-310,"t":"0.92","v":0},{"x":-5.07,"d":-620,"t":"0.92","v":0.92},{"x":-2.2,"d":-620,"t":"0.92","v":0.92},{"x":0.29,"d":-620,"t":"0.92","v":0.92},{"x":2.83,"d":-620,"t":"0.92","v":0.92},{"x":3.02,"d":-620,"t":"1.7","v":0.92},{"x":3.41,"d":-620,"t":"2.48","v":1.7},{"x":5.03,"d":-620,"t":"0.92","v":0.92},{"x":6.79,"d":-590,"t":"0.92","v":0.92},{"x":7.06,"d":-620,"t":"1.7","v":1.7},{"x":7.32,"d":-620,"t":"2.48","v":2.48},{"x":7.61,"d":-620,"t":"3.26","v":2.48},{"x":8.82,"d":-670,"t":"2.48","v":2.48},{"x":9.23,"d":-620,"t":"3.26","v":2.48},{"x":10.61,"d":-620,"t":"0.92","v":0.92},{"x":1.17,"d":-570,"t":"1.7","v":0.92},{"x":-3.18,"d":-880,"t":"0.92","v":0.92},{"x":-1.13,"d":-880,"t":"0.92","v":0.92},{"x":1.89,"d":-880,"t":"0.92","v":0.92},{"x":4.1,"d":-880,"t":"2.48","v":2.48},{"x":4.35,"d":-880,"t":"1.7","v":1.7},{"x":4.59,"d":-880,"t":"0.92","v":0.92},{"x":6.44,"d":-780,"t":"0.92","v":0.92},{"x":8.2,"d":-880,"t":"3.26","v":2.48},{"x":8.59,"d":-880,"t":"2.48","v":2.48},{"x":10,"d":-880,"t":"3.26","v":2.48},{"x":10.18,"d":-880,"t":"2.48","v":1.7},{"x":10.4,"d":-880,"t":"1.7","v":0.92}],
"rd":[{"id":"d0","v":0,"d":0,"l":-13,"r":13},{"id":"d0","v":0,"d":-1000,"l":-13,"r":13},{"id":"d1","v":0.67,"d":0,"l":-13,"r":-6},{"id":"d1","v":0.67,"d":-200,"l":-13,"r":-6},{"id":"d1m","v":0.67,"d":0,"l":-5.48,"r":-3.62},{"id":"d1m","v":0.67,"d":-280,"l":-5.48,"r":-3.62},{"id":"d1m","v":0.67,"d":-285,"l":-5.8,"r":-3.62},{"id":"d1m","v":0.67,"d":-1000,"l":-5.8,"r":-3.62},{"id":"d2","v":1.28,"d":0,"l":-11.2,"r":-10.4},{"id":"d2","v":1.28,"d":-200,"l":-11.2,"r":-10.4},{"id":"d3","v":0.67,"e":1,"d":0,"l":-2.54,"r":-1.69},{"id":"d3","v":0.67,"e":1,"d":-1000,"l":-2.54,"r":-1.69},{"id":"d4","v":0.67,"e":1,"d":0,"l":0.34,"r":2.12},{"id":"d4","v":0.67,"e":1,"d":-1000,"l":0.36,"r":2.12},{"id":"d5","v":0.67,"e":1,"d":0,"l":2.69,"r":4.64},{"id":"d5","v":0.67,"e":1,"d":-1000,"l":2.65,"r":4.64},{"id":"d6","v":1.28,"e":1,"d":0,"l":3.19,"r":4.4},{"id":"d6","v":1.28,"e":1,"d":-1000,"l":3.19,"r":4.4},{"id":"d7","v":1.89,"e":1,"d":0,"l":3.6,"r":4.1},{"id":"d7","v":1.89,"e":1,"d":-1000,"l":3.6,"r":4.1},{"id":"d8","v":0.67,"e":1,"d":0,"l":5.1,"r":10.38},{"id":"d8","v":0.67,"e":1,"d":-1000,"l":5.1,"r":10.38},{"id":"d9","v":0,"e":1,"d":0,"l":6.57,"r":6.9},{"id":"d9","v":0,"e":1,"d":-1000,"l":6.57,"r":6.9},{"id":"d10","v":1.28,"e":1,"d":0,"l":7.03,"r":10.28},{"id":"d10","v":1.28,"e":1,"d":-1000,"l":7.03,"r":10.26},{"id":"d11","v":1.89,"e":1,"d":0,"l":7.2,"r":9.77},{"id":"d11","v":1.89,"e":1,"d":-1000,"l":7.2,"r":9.77},{"id":"d12","v":2.51,"e":1,"d":0,"l":7.6,"r":8.69},{"id":"d12","v":2.51,"e":1,"d":-1000,"l":7.6,"r":8.69}],
"ud":[{"x":-11.14,"x2":-11.14,"y":0,"y2":-200},{"x":-10.99,"x2":-10.99,"y":0,"y2":-200},{"x":-10.57,"x2":-10.57,"y":0,"y2":-200},{"x":-10.23,"x2":-10.23,"y":0,"y2":-200},{"x":-9.86,"x2":-9.86,"y":0,"y2":-200},{"x":-9.58,"x2":-9.58,"y":0,"y2":-200},{"x":-9.39,"x2":-9.39,"y":0,"y2":-100},{"x":-9.11,"x2":-9.11,"y":0,"y2":-100},{"x":-8.92,"x2":-8.92,"y":0,"y2":-100},{"x":-8.73,"x2":-8.73,"y":0,"y2":-100},{"x":-8.51,"x2":-8.51,"y":0,"y2":-100},{"x":-8.26,"x2":-8.26,"y":0,"y2":-100},{"x":-8.08,"x2":-8.08,"y":0,"y2":-100},{"x":-7.79,"x2":-7.79,"y":0,"y2":-200},{"x":-7.51,"x2":-7.51,"y":0,"y2":-200},{"x":-6.52,"x2":-6.52,"y":0,"y2":-100},{"x":-6,"x2":-6,"y":0,"y2":-200},{"x":-5.48,"x2":-5.45,"y":0,"y2":-280},{"x":-4.85,"x2":-4.72,"y":0,"y2":-195},{"x":-4.7,"x2":-4.7,"y":-450,"y2":-1000},{"x":-3.62,"x2":-3.62,"y":0,"y2":-1000},{"x":-3.29,"x2":-3.29,"y":0,"y2":-1000},{"x":1.5,"x2":1.5,"y":0,"y2":-35},{"x":3.3,"x2":3.3,"y":0,"y2":-1000},{"x":3.75,"x2":3.75,"y":0,"y2":-1000},{"x":3.95,"x2":3.95,"y":-300,"y2":-1000},{"x":4.15,"x2":4.15,"y":0,"y2":-1000},{"x":4.25,"x2":4.25,"y":0,"y2":-1000},{"x":4.32,"x2":4.32,"y":0,"y2":-1000},{"x":4.5,"x2":4.5,"y":0,"y2":-1000},{"x":5.58,"x2":5.58,"y":0,"y2":-1000},{"x":5.62,"x2":5.62,"y":0,"y2":-1000},{"x":7.1,"x2":7.1,"y":0,"y2":-1000},{"x":7.27,"x2":7.27,"y":0,"y2":-1000},{"x":7.35,"x2":7.35,"y":0,"y2":-1000},{"x":7.43,"x2":7.43,"y":0,"y2":-1000},{"x":7.68,"x2":7.68,"y":-125,"y2":-1000},{"x":8.8,"x2":8.85,"y":0,"y2":-150},{"x":8.92,"x2":8.92,"y":0,"y2":-120},{"x":9.2,"x2":9.2,"y":0,"y2":-1000},{"x":9.65,"x2":9.65,"y":0,"y2":-200},{"x":10.15,"x2":10.15,"y":0,"y2":-700},{"x":10.89,"x2":10.89,"y":0,"y2":-90},{"x":10.89,"x2":10.89,"y":-250,"y2":-400},{"x":10.52,"x2":10.52,"y":-200,"y2":-320}],
"td":[{"x":-11,"d":-100,"t":"1.89","v":1.28},{"x":-10.6,"d":-75,"t":"1.28","v":0.67},{"x":-10.6,"d":-140,"t":"1.28","v":0.67},{"x":-9.9,"d":-110,"t":"0.67","v":0.67},{"x":-9.6,"d":-70,"t":"0.67","v":0.67},{"x":-7.9,"d":-100,"t":"0.67","v":0.67},{"x":-5.9,"d":-110,"t":"0.67","v":0},{"x":-5.55,"d":-120,"t":"0.67","v":0.67},{"x":-4.8,"d":-125,"t":"1.28","v":0.67},{"x":-3.5,"d":-130,"t":"0.67","v":0.67},{"x":-2.54,"d":-130,"t":"0.67","v":0.67},{"x":0.34,"d":-130,"t":"0.67","v":0.67},{"x":2.69,"d":-130,"t":"0.67","v":0.67},{"x":3.19,"d":-130,"t":"1.28","v":1.28},{"x":3.6,"d":-130,"t":"1.89","v":1.28},{"x":4.1,"d":-130,"t":"1.89","v":1.28},{"x":4.64,"d":-130,"t":"0.67","v":0.67},{"x":5.1,"d":-130,"t":"0.67","v":0.67},{"x":5.58,"d":-130,"t":"1.28","v":0.67},{"x":6.57,"d":-130,"t":"0.67","v":0},{"x":6.95,"d":-130,"t":"0.67","v":0.67},{"x":7.15,"d":-130,"t":"1.89","v":1.28},{"x":7.45,"d":-130,"t":"2.51","v":1.89},{"x":8.9,"d":-130,"t":"2.51","v":1.89},{"x":9.6,"d":-130,"t":"2.51","v":1.89},{"x":10.3,"d":-240,"t":"0.67","v":0.67},{"x":10.89,"d":-170,"t":"0.66","v":0},{"x":-3.62,"d":-390,"t":"0.67","v":0.67},{"x":-3.29,"d":-390,"t":"0.67","v":0.67},{"x":-1.69,"d":-390,"t":"0.67","v":0.67},{"x":2.12,"d":-390,"t":"0.67","v":0.67},{"x":3.3,"d":-390,"t":"1.89","v":1.28},{"x":3.95,"d":-390,"t":"1.89","v":1.89},{"x":4.32,"d":-390,"t":"1.28","v":1.28},{"x":4.6,"d":-390,"t":"0.67","v":0.67},{"x":5.2,"d":-390,"t":"0.67","v":0.67},{"x":5.6,"d":-390,"t":"1.28","v":0.67},{"x":6.6,"d":-390,"t":"0.67","v":0.67},{"x":6.9,"d":-390,"t":"0.67","v":0.67},{"x":7.45,"d":-390,"t":"1.89","v":1.89},{"x":7.85,"d":-390,"t":"2.51","v":2.51},{"x":8.69,"d":-390,"t":"2.51","v":2.51},{"x":9.2,"d":-390,"t":"2.51","v":1.89},{"x":10.2,"d":-390,"t":"1.28","v":0.67},{"x":-4.7,"d":-440,"t":"1.28","v":0.67},{"x":-3.62,"d":-640,"t":"0.67","v":0.67},{"x":-2.54,"d":-640,"t":"0.67","v":0.67},{"x":0.34,"d":-640,"t":"0.67","v":0.67},{"x":2.69,"d":-640,"t":"0.67","v":0.67},{"x":3.19,"d":-640,"t":"1.28","v":1.28},{"x":3.6,"d":-640,"t":"1.89","v":1.28},{"x":4.64,"d":-640,"t":"0.67","v":0.67},{"x":5.1,"d":-640,"t":"0.67","v":0.67},{"x":5.6,"d":-640,"t":"1.28","v":0.67},{"x":6.6,"d":-640,"t":"0.67","v":0.67},{"x":7.03,"d":-640,"t":"1.28","v":1.28},{"x":7.6,"d":-640,"t":"2.51","v":1.89},{"x":8.69,"d":-640,"t":"2.51","v":2.51},{"x":9.7,"d":-640,"t":"2.51","v":1.89},{"x":10,"d":-640,"t":"1.89","v":1.28},{"x":-4.7,"d":-900,"t":"1.28","v":0.67},{"x":-3.62,"d":-880,"t":"0.67","v":0.67},{"x":-3.29,"d":-880,"t":"0.67","v":0.67},{"x":-1.69,"d":-880,"t":"0.67","v":0.67},{"x":2.12,"d":-880,"t":"0.67","v":0.67},{"x":3.3,"d":-880,"t":"1.28","v":1.28},{"x":4.64,"d":-880,"t":"0.67","v":0.67},{"x":5.2,"d":-880,"t":"0.67","v":0.67},{"x":6.57,"d":-880,"t":"0.67","v":0.67},{"x":7.7,"d":-880,"t":"2.51","v":2.51},{"x":8.69,"d":-880,"t":"2.51","v":2.51},{"x":9.2,"d":-880,"t":"2.51","v":1.89},{"x":10.2,"d":-880,"t":"1.28","v":0.67}],
"re":[{"id":"e0","v":0,"d":0,"l":-12,"r":13},{"id":"e0","v":0,"d":-1000,"l":-12,"r":13},{"id":"e1","v":1.32,"e":1,"d":0,"l":-11.84,"r":-10.2},{"id":"e1","v":1.32,"e":1,"d":-30,"l":-11.8,"r":-10.3},{"id":"e1","v":1.32,"e":1,"d":-60,"l":-11.75,"r":-10.68},{"id":"e1","v":1.32,"e":1,"d":-90,"l":-11.4,"r":-11.1},{"id":"e1","v":1.32,"e":1,"d":-95,"l":-11.3,"r":-11.3},{"id":"e1b","v":1.32,"e":1,"d":0,"l":-11.1,"r":-10.9},{"id":"e1b","v":1.32,"e":1,"d":-20,"l":-11,"r":-11},{"id":"e2","v":1.32,"e":1,"d":0,"l":-9.13,"r":-7.96},{"id":"e2","v":1.32,"e":1,"d":-40,"l":-9.03,"r":-8.02},{"id":"e2","v":1.32,"e":1,"d":-70,"l":-8.64,"r":-8.25},{"id":"e2","v":1.32,"e":1,"d":-80,"l":-8.54,"r":-8.54},{"id":"e3","v":1.32,"e":1,"d":0,"l":-4.08,"r":-3.5},{"id":"e3","v":1.32,"e":1,"d":-25,"l":-3.9,"r":-3.6},{"id":"e4","v":1.32,"e":1,"d":0,"l":0.68,"r":1.84},{"id":"e4","v":1.32,"e":1,"d":-40,"l":0.78,"r":1.7},{"id":"e4","v":1.32,"e":1,"d":-70,"l":0.97,"r":1.46},{"id":"e4","v":1.32,"e":1,"d":-100,"l":1.07,"r":1.07},{"id":"e5","v":1.32,"e":1,"d":-100,"l":-5.67,"r":-5.67},{"id":"e5","v":1.32,"e":1,"d":-200,"l":-5.95,"r":-5.4},{"id":"e5","v":1.32,"e":1,"d":-300,"l":-5.7,"r":-5.2},{"id":"e5","v":1.32,"e":1,"d":-400,"l":-5.6,"r":-5.05},{"id":"e5","v":1.32,"e":1,"d":-600,"l":-5.4,"r":-5.05},{"id":"e5","v":1.32,"e":1,"d":-640,"l":-5.3,"r":-5.1},{"id":"e5b","v":1.32,"e":1,"d":-710,"l":-5.2,"r":-5.15},{"id":"e5b","v":1.32,"e":1,"d":-800,"l":-5.3,"r":-4.85},{"id":"e5b","v":1.32,"e":1,"d":-880,"l":-5.3,"r":-4.56},{"id":"e5b","v":1.32,"e":1,"d":-1000,"l":-5.3,"r":-4.37},{"id":"e6","v":1.32,"e":1,"d":-800,"l":-2.6,"r":-2.6},{"id":"e6","v":1.32,"e":1,"d":-830,"l":-2.87,"r":-2.43},{"id":"e6","v":1.32,"e":1,"d":-900,"l":-3,"r":-2.23},{"id":"e6","v":1.32,"e":1,"d":-1000,"l":-3.2,"r":-2.04},{"id":"e7","v":1.32,"e":1,"d":-575,"l":1.65,"r":1.65},{"id":"e7","v":1.32,"e":1,"d":-600,"l":1.07,"r":1.94},{"id":"e7","v":1.32,"e":1,"d":-650,"l":0.87,"r":2.14},{"id":"e7","v":1.32,"e":1,"d":-700,"l":0.68,"r":2.23},{"id":"e7","v":1.32,"e":1,"d":-800,"l":0.54,"r":2.37},{"id":"e7","v":1.32,"e":1,"d":-1000,"l":0.43,"r":2.44},{"id":"e8","v":1.32,"e":1,"d":0,"l":3.02,"r":5.61},{"id":"e8","v":1.32,"e":1,"d":-69,"l":2.94,"r":5.6},{"id":"e8","v":1.32,"e":1,"d":-95,"l":2.79,"r":5.6},{"id":"e8","v":1.32,"e":1,"d":-148,"l":2.9,"r":5.57},{"id":"e8","v":1.32,"e":1,"d":-376,"l":2.98,"r":5.53},{"id":"e8","v":1.32,"e":1,"d":-473,"l":2.9,"r":5.53},{"id":"e8","v":1.32,"e":1,"d":-596,"l":2.9,"r":5.61},{"id":"e8","v":1.32,"e":1,"d":-640,"l":2.9,"r":5.61},{"id":"e8","v":1.32,"e":1,"d":-772,"l":2.9,"r":5.8},{"id":"e8","v":1.32,"e":1,"d":-903,"l":2.88,"r":5.92},{"id":"e8","v":1.32,"e":1,"d":-1000,"l":2.83,"r":6.03},{"id":"e9","v":0,"e":1,"d":0,"l":4.43,"r":4.96},{"id":"e9","v":0,"e":1,"d":-130,"l":4.16,"r":4.96},{"id":"e9","v":0,"e":1,"d":-227,"l":4.08,"r":4.96},{"id":"e9","v":0,"e":1,"d":-332,"l":4.16,"r":4.97},{"id":"e9","v":0,"e":1,"d":-473,"l":4.31,"r":4.93},{"id":"e9","v":0,"e":1,"d":-517,"l":4.4,"r":4.78},{"id":"e9","v":0,"e":1,"d":-613,"l":4.54,"r":4.54},{"id":"e10","v":0,"e":1,"d":-209,"l":5.19,"r":5.19},{"id":"e10","v":0,"e":1,"d":-290,"l":5.1,"r":5.28},{"id":"e10","v":0,"e":1,"d":-400,"l":5.07,"r":5.33},{"id":"e10","v":0,"e":1,"d":-473,"l":5.22,"r":5.3},{"id":"e11","v":2.62,"e":1,"d":0,"l":3.44,"r":4},{"id":"e11","v":2.62,"e":1,"d":-30,"l":3.55,"r":3.9},{"id":"e11","v":2.62,"e":1,"d":-60,"l":3.63,"r":3.7},{"id":"e12","v":2.62,"e":1,"d":-148,"l":3.59,"r":3.59},{"id":"e12","v":2.62,"e":1,"d":-244,"l":3.47,"r":3.7},{"id":"e12","v":2.62,"e":1,"d":-376,"l":3.44,"r":3.78},{"id":"e12","v":2.62,"e":1,"d":-473,"l":3.4,"r":3.82},{"id":"e12","v":2.62,"e":1,"d":-517,"l":3.4,"r":3.93},{"id":"e13","v":2.62,"e":1,"d":-192,"l":3.17,"r":3.17},{"id":"e13","v":2.62,"e":1,"d":-288,"l":3.05,"r":3.28},{"id":"e13","v":2.62,"e":1,"d":-402,"l":3,"r":3.31},{"id":"e13","v":2.62,"e":1,"d":-473,"l":2.98,"r":3.4},{"id":"e13","v":2.62,"e":1,"d":-508,"l":2.98,"r":3.4},{"id":"e14","v":2.62,"d":-508,"l":2.98,"r":3.93},{"id":"e14","v":2.62,"d":-517,"l":2.98,"r":3.93},{"id":"e15","v":2.62,"e":1,"d":-517,"l":2.98,"r":3.93},{"id":"e15","v":2.62,"e":1,"d":-596,"l":2.98,"r":4.16},{"id":"e15","v":2.62,"e":1,"d":-684,"l":2.98,"r":4.31},{"id":"e15","v":2.62,"e":1,"d":-772,"l":2.98,"r":4.35},{"id":"e15","v":2.62,"e":1,"d":-1000,"l":2.94,"r":4.39},{"id":"e16","v":3.91,"e":1,"d":-343,"l":3.59,"r":3.59},{"id":"e16","v":3.91,"e":1,"d":-420,"l":3.51,"r":3.66},{"id":"e16","v":3.91,"e":1,"d":-508,"l":3.45,"r":3.68},{"id":"e16","v":3.91,"e":1,"d":-684,"l":3.45,"r":3.72},{"id":"e16","v":3.91,"e":1,"d":-754,"l":3.45,"r":3.93},{"id":"e16","v":3.91,"e":1,"d":-860,"l":3.4,"r":4.05},{"id":"e16","v":3.91,"e":1,"d":-1000,"l":3.4,"r":4.09},{"id":"e17","v":3.91,"e":1,"d":-700,"l":3.17,"r":3.17},{"id":"e17","v":3.91,"e":1,"d":-772,"l":3.11,"r":3.25},{"id":"e17","v":3.91,"e":1,"d":-1000,"l":3.05,"r":3.26},{"id":"e18","v":5.2,"e":1,"d":-675,"l":3.59,"r":3.59},{"id":"e18","v":5.2,"e":1,"d":-772,"l":3.51,"r":3.7},{"id":"e18","v":5.2,"e":1,"d":-860,"l":3.47,"r":3.72},{"id":"e18","v":5.2,"e":1,"d":-1000,"l":3.44,"r":3.78},{"id":"e19","v":1.32,"e":1,"d":-38,"l":6.41,"r":6.41},{"id":"e19","v":1.32,"e":1,"d":-69,"l":6.34,"r":6.51},{"id":"e19","v":1.32,"e":1,"d":-306,"l":6.34,"r":6.45},{"id":"e19","v":1.32,"e":1,"d":-332,"l":6.07,"r":6.37},{"id":"e19","v":1.32,"e":1,"d":-402,"l":6.15,"r":6.26},{"id":"e19","v":1.32,"e":1,"d":-455,"l":6.11,"r":6.11},{"id":"e20","v":1.32,"e":1,"d":0,"l":7.06,"r":10.5},{"id":"e20","v":1.32,"e":1,"d":-156,"l":7.14,"r":10.47},{"id":"e20","v":1.32,"e":1,"d":-244,"l":7.14,"r":10.46},{"id":"e20","v":1.32,"e":1,"d":-508,"l":7.05,"r":10.46},{"id":"e20","v":1.32,"e":1,"d":-640,"l":6.95,"r":10.46},{"id":"e20","v":1.32,"e":1,"d":-684,"l":6.91,"r":10.46},{"id":"e20","v":1.32,"e":1,"d":-860,"l":6.98,"r":10.38},{"id":"e20","v":1.32,"e":1,"d":-960,"l":7.06,"r":10.21},{"id":"e20","v":1.32,"e":1,"d":-1000,"l":7.12,"r":10.21},{"id":"e21","v":0,"e":1,"d":-912,"l":9.2,"r":9.2},{"id":"e21","v":0,"e":1,"d":-925,"l":9.05,"r":9.27},{"id":"e21","v":0,"e":1,"d":-935,"l":8.95,"r":9.66},{"id":"e21","v":0,"e":1,"d":-960,"l":8.82,"r":10.21},{"id":"e21","v":0,"e":1,"d":-1000,"l":8.59,"r":10.21},{"id":"e22","v":0,"e":1,"d":-952,"l":7.18,"r":7.18},{"id":"e22","v":0,"e":1,"d":-975,"l":7.14,"r":7.33},{"id":"e22","v":0,"e":1,"d":-1000,"l":7.12,"r":7.35},{"id":"e23","v":2.62,"e":1,"d":0,"l":7.37,"r":10.27},{"id":"e23","v":2.62,"e":1,"d":-244,"l":7.33,"r":10.23},{"id":"e23","v":2.62,"e":1,"d":-640,"l":7.21,"r":10.27},{"id":"e23","v":2.62,"e":1,"d":-684,"l":7.18,"r":10.26},{"id":"e23","v":2.62,"e":1,"d":-754,"l":7.23,"r":10.21},{"id":"e24","v":2.62,"e":1,"d":-754,"l":7.23,"r":9.2},{"id":"e24","v":2.62,"e":1,"d":-793,"l":7.29,"r":8.85},{"id":"e24","v":2.62,"e":1,"d":-877,"l":7.37,"r":8.59},{"id":"e24","v":2.62,"e":1,"d":-930,"l":7.48,"r":8.21},{"id":"e24","v":2.62,"e":1,"d":-1000,"l":7.56,"r":8.02},{"id":"e25","v":2.62,"e":1,"d":-754,"l":9.2,"r":10.21},{"id":"e25","v":2.62,"e":1,"d":-802,"l":9.31,"r":10.08},{"id":"e25","v":2.62,"e":1,"d":-846,"l":9.66,"r":9.66},{"id":"e26","v":3.91,"e":1,"d":0,"l":7.67,"r":8.21},{"id":"e26","v":3.91,"e":1,"d":-95,"l":7.71,"r":8.4},{"id":"e26","v":3.91,"e":1,"d":-200,"l":7.71,"r":8.36},{"id":"e26","v":3.91,"e":1,"d":-376,"l":7.66,"r":8.36},{"id":"e26","v":3.91,"e":1,"d":-473,"l":7.6,"r":8.47},{"id":"e26","v":3.91,"e":1,"d":-552,"l":7.48,"r":8.55},{"id":"e26","v":3.91,"e":1,"d":-640,"l":7.4,"r":8.63},{"id":"e26","v":3.91,"e":1,"d":-684,"l":7.4,"r":8.66},{"id":"e26","v":3.91,"e":1,"d":-772,"l":7.48,"r":8.59},{"id":"e26","v":3.91,"e":1,"d":-825,"l":7.63,"r":8.36},{"id":"e26","v":3.91,"e":1,"d":-877,"l":7.94,"r":7.94},{"id":"e27","v":3.91,"e":1,"d":0,"l":9.5,"r":9.73},{"id":"e27","v":3.91,"e":1,"d":-33,"l":9.35,"r":9.92},{"id":"e27","v":3.91,"e":1,"d":-112,"l":9.27,"r":10},{"id":"e27","v":3.91,"e":1,"d":-420,"l":9.27,"r":10.08},{"id":"e27","v":3.91,"e":1,"d":-684,"l":9.31,"r":10.11},{"id":"e27","v":3.91,"e":1,"d":-736,"l":9.47,"r":9.94},{"id":"e27","v":3.91,"e":1,"d":-763,"l":9.69,"r":9.69},{"id":"e28","v":5.2,"e":1,"d":-508,"l":7.89,"r":7.89},{"id":"e28","v":5.2,"e":1,"d":-596,"l":7.86,"r":8.24},{"id":"e28","v":5.2,"e":1,"d":-648,"l":7.71,"r":8.32},{"id":"e28","v":5.2,"e":1,"d":-701,"l":7.6,"r":8.44},{"id":"e28","v":5.2,"e":1,"d":-736,"l":7.82,"r":8.36},{"id":"e28","v":5.2,"e":1,"d":-763,"l":7.98,"r":8.13}],
"ue":[{"x":-2,"x2":-2,"y":0,"y2":-10},{"x":-5.5,"x2":-5.2,"y":-340,"y2":-620},{"x":4.77,"x2":4.77,"y":-692,"y2":-736},{"x":5.19,"x2":5.19,"y":0,"y2":-12},{"x":8.32,"x2":8.32,"y":-192,"y2":-385},{"x":8.59,"x2":8.59,"y":-455,"y2":-587},{"x":2.85,"x2":2.85,"y":-800,"y2":-830},{"x":3.0,"x2":3.0,"y":-508,"y2":-1000}],
"te":[{"x":-11.3,"d":-75,"t":"1.32","v":0},{"x":-8.6,"d":-55,"t":"1.32","v":1.32},{"x":1.08,"d":-80,"t":"1.32","v":1.32},{"x":-5.3,"d":-270,"t":"1.32","v":1.32},{"x":-5.2,"d":-590,"t":"1.32","v":0},{"x":-4.5,"d":-905,"t":"1.32","v":1.32},{"x":-2.35,"d":-890,"t":"1.32","v":1.32},{"x":0.75,"d":-670,"t":"1.32","v":1.32},{"x":2.37,"d":-872,"t":"1.32","v":1.32},{"x":2.75,"d":-887,"t":"1.32","v":0},{"x":2.94,"d":-887,"t":"2.62","v":1.32},{"x":4.92,"d":-112,"t":"1.32","v":0},{"x":4.08,"d":-192,"t":"1.32","v":1.32},{"x":3.63,"d":-50,"t":"2.62","v":1.32},{"x":3.47,"d":-235,"t":"2.62","v":2.62},{"x":3.02,"d":-429,"t":"2.62","v":2.62},{"x":3.32,"d":-446,"t":"2.62","v":2.62},{"x":2.9,"d":-499,"t":"1.32","v":1.32},{"x":3.63,"d":-578,"t":"3.91","v":3.91},{"x":3.4,"d":-578,"t":"3.91","v":2.62},{"x":3.89,"d":-517,"t":"2.62","v":1.32},{"x":4.69,"d":-552,"t":"1.32","v":1.32},{"x":5.15,"d":-411,"t":"1.32","v":1.32},{"x":5.53,"d":-429,"t":"1.32","v":1.32},{"x":6.53,"d":-130,"t":"1.32","v":1.32},{"x":6.03,"d":-332,"t":"1.32","v":1.32},{"x":7.14,"d":-156,"t":"1.32","v":1.32},{"x":7.37,"d":-156,"t":"2.62","v":2.62},{"x":7.71,"d":-86,"t":"3.91","v":3.91},{"x":8.4,"d":-161,"t":"3.91","v":3.91},{"x":8.21,"d":-332,"t":"5.2","v":3.91},{"x":10.04,"d":-99,"t":"3.91","v":3.91},{"x":10.5,"d":-205,"t":"1.32","v":1.32},{"x":10.27,"d":-442,"t":"2.62","v":1.32},{"x":9.27,"d":-521,"t":"3.91","v":3.91},{"x":10.11,"d":-569,"t":"3.91","v":3.91},{"x":10.53,"d":-684,"t":"1.32","v":1.32},{"x":7.52,"d":-578,"t":"3.91","v":2.62},{"x":7.21,"d":-631,"t":"2.62","v":1.32},{"x":6.95,"d":-631,"t":"1.32","v":0},{"x":7.79,"d":-618,"t":"5.2","v":3.91},{"x":8.36,"d":-534,"t":"3.91","v":3.91},{"x":8.28,"d":-824,"t":"3.91","v":2.62},{"x":9.5,"d":-824,"t":"2.62","v":2.62},{"x":9.12,"d":-916,"t":"1.32","v":1.32},{"x":7.86,"d":-947,"t":"2.62","v":2.62},{"x":5.84,"d":-846,"t":"1.32","v":1.32},{"x":3.24,"d":-846,"t":"3.91","v":3.91},{"x":4.05,"d":-846,"t":"3.91","v":2.62},{"x":4.39,"d":-930,"t":"2.62","v":2.62},{"x":3.78,"d":-947,"t":"5.2","v":3.91},{"x":3.51,"d":-895,"t":"5.2","v":3.91}],
"fd":[{"x":-12,"x2":11.89,"y":0,"y2":0},{"x":-12,"x2":11.89,"y":-1000,"y2":-1000},{"x":-12,"x2":-12,"y":0,"y2":-1000},{"x":11.89,"x2":11.89,"y":0,"y2":-1000}],
"gd":[{"x":-10,"x2":-10,"y":0,"y2":-1000},{"x":-5,"x2":-5,"y":0,"y2":-1000},{"x":0,"x2":0,"y":0,"y2":-1000},{"x":5,"x2":5,"y":0,"y2":-1000},{"x":10,"x2":10,"y":0,"y2":-1000}],
"fe":[{"x":-12,"x2":11.84,"y":0,"y2":0},{"x":-12,"x2":11.84,"y":-1000,"y2":-1000},{"x":-12,"x2":-12,"y":0,"y2":-1000},{"x":11.84,"x2":11.84,"y":0,"y2":-1000}],
"ge":[{"x":-12,"x2":11.84,"y":-200,"y2":-200},{"x":-12,"x2":11.84,"y":-400,"y2":-400},{"x":-12,"x2":11.84,"y":-600,"y2":-600},{"x":-12,"x2":11.84,"y":-800,"y2":-800}]
},"align":"none","hconcat":[
{"align":"none","spacing":-3,"vconcat":[
{"width":1154,"height":392,"layer":[
{"data":{"name":"ra"},"mark":{"type":"area","orient":"horizontal","clip":true},"encoding":{"x":{"field":"l","type":"quantitative","stack":null,"scale":{"domain":[-12,11.87],"nice":false,"zero":false},"axis":{"title":"Longitude [°]","values":[-10,-5,0,5,10],"labelExpr":"''+datum.value","labelPadding":12,"titlePadding":16,"zindex":1}},"x2":{"field":"r"},"y":{"field":"d","type":"quantitative","scale":{"domain":[-1000,0],"nice":false,"zero":false},"axis":{"title":"Depth [m]","values":[0,-200,-400,-600,-800,-1000],"labelExpr":"''+datum.value","labelPadding":12,"titlePadding":8,"zindex":1}},"detail":{"field":"id"},"color":{"field":"v","type":"quantitative","scale":{"domain":[0,0.65,1.25,1.7,2.17,2.6,3,3.6,4.5,5.2,6],"range":["#fffdcb","#e8d67f","#d5bd3f","#c4b000","#a3ab00","#7da600","#4f9300","#008000","#05602f","#0b5a30","#1a2a18"]},"legend":null},"order":{"value":null}}},
{"data":{"name":"ua"},"mark":{"type":"rule","clip":true},"encoding":{"x":{"field":"x","type":"quantitative"},"x2":{"field":"x2"},"y":{"field":"y","type":"quantitative"},"y2":{"field":"y2"}}},
{"data":{"name":"ra"},"transform":[{"filter":"datum.e"}],"mark":{"type":"line","clip":true},"encoding":{"x":{"field":"l","type":"quantitative"},"y":{"field":"d","type":"quantitative"},"detail":{"field":"id"},"order":{"value":null}}},
{"data":{"name":"ra"},"transform":[{"filter":"datum.e"}],"mark":{"type":"line","clip":true},"encoding":{"x":{"field":"r","type":"quantitative"},"y":{"field":"d","type":"quantitative"},"detail":{"field":"id"},"order":{"value":null}}},
{"data":{"name":"land"},"mark":{"type":"area","orient":"horizontal","clip":true,"color":"white"},"encoding":{"x":{"field":"l","type":"quantitative","stack":null},"x2":{"field":"r"},"y":{"field":"d","type":"quantitative"},"detail":{"field":"id"}}},
{"data":{"name":"ta"},"mark":{"type":"text","angle":90,"fontSize":13,"strokeWidth":6},"encoding":{"x":{"field":"x","type":"quantitative"},"y":{"field":"d","type":"quantitative"},"text":{"field":"t"},"stroke":{"field":"v","type":"quantitative","legend":null,"scale":{"domain":[0,0.65,1.25,1.7,2.17,2.6,3,3.6,4.5,5.2,6],"range":["#fffdcb","#e8d67f","#d5bd3f","#c4b000","#a3ab00","#7da600","#4f9300","#008000","#05602f","#0b5a30","#1a2a18"]}}}},
{"data":{"name":"ta"},"mark":{"type":"text","angle":90,"fontSize":13,"color":"#222222"},"encoding":{"x":{"field":"x","type":"quantitative"},"y":{"field":"d","type":"quantitative"},"text":{"field":"t"}}},
{"data":{"name":"cb"},"mark":"rect","encoding":{"x":{"field":"x","type":"quantitative"},"x2":{"field":"x2"},"y":{"field":"y","type":"quantitative"},"y2":{"field":"y2"},"color":{"field":"v","type":"quantitative","legend":null}}},
{"data":{"name":"cf"},"mark":{"type":"rule","color":"#aaaaaa","strokeWidth":1.5},"encoding":{"x":{"field":"x","type":"quantitative"},"x2":{"field":"x2"},"y":{"field":"y","type":"quantitative"},"y2":{"field":"y2"}}},
{"data":{"name":"cl"},"mark":{"type":"text","align":"left","baseline":"middle","fontSize":32,"color":"#333333"},"encoding":{"x":{"field":"x","type":"quantitative"},"y":{"field":"y","type":"quantitative"},"text":{"field":"t"}}},
{"data":{"values":[{"x":-11.42,"y":48,"t":"Reconstruction from SSH"}]},"mark":{"type":"text","align":"left","baseline":"alphabetic","fontSize":85,"fontWeight":"bold","fontStyle":"italic","color":"#595959"},"encoding":{"x":{"field":"x","type":"quantitative"},"y":{"field":"y","type":"quantitative"},"text":{"field":"t"}}},
{"data":{"values":[{"x":-14.85,"y":71,"t":"(a)"}]},"mark":{"type":"text","align":"left","baseline":"alphabetic","font":"Liberation Serif","fontSize":42,"fontWeight":"bold","color":"#111111"},"encoding":{"x":{"field":"x","type":"quantitative"},"y":{"field":"y","type":"quantitative"},"text":{"field":"t"}}},
{"data":{"values":[{"x":13.67,"y":-500,"t":"velocity [m/s]"}]},"mark":{"type":"text","angle":270,"fontSize":30,"color":"#444444"},"encoding":{"x":{"field":"x","type":"quantitative"},"y":{"field":"y","type":"quantitative"},"text":{"field":"t"}}}
]},
{"width":1154,"height":393,"layer":[
{"data":{"name":"rb"},"mark":{"type":"area","orient":"horizontal","clip":true},"encoding":{"x":{"field":"l","type":"quantitative","stack":null,"scale":{"domain":[-12,11.87],"nice":false,"zero":false},"axis":{"title":"Longitude [°]","values":[-10,-5,0,5,10],"labelExpr":"''+datum.value","labelPadding":12,"titlePadding":4,"zindex":1}},"x2":{"field":"r"},"y":{"field":"d","type":"quantitative","scale":{"domain":[-1000,0],"nice":false,"zero":false},"axis":{"title":"Depth [m]","values":[0,-200,-400,-600,-800,-1000],"labelExpr":"''+datum.value","labelPadding":12,"titlePadding":8,"zindex":1}},"detail":{"field":"id"},"color":{"field":"v","type":"quantitative","scale":{"domain":[0,0.65,1.25,1.7,2.17,2.6,3,3.6,4.5,5.2,6],"range":["#fffdcb","#e8d67f","#d5bd3f","#c4b000","#a3ab00","#7da600","#4f9300","#008000","#05602f","#0b5a30","#1a2a18"]},"legend":null},"order":{"value":null}}},
{"data":{"name":"ub"},"mark":{"type":"rule","clip":true},"encoding":{"x":{"field":"x","type":"quantitative"},"x2":{"field":"x2"},"y":{"field":"y","type":"quantitative"},"y2":{"field":"y2"}}},
{"data":{"name":"rb"},"transform":[{"filter":"datum.e"}],"mark":{"type":"line","clip":true},"encoding":{"x":{"field":"l","type":"quantitative"},"y":{"field":"d","type":"quantitative"},"detail":{"field":"id"},"order":{"value":null}}},
{"data":{"name":"rb"},"transform":[{"filter":"datum.e"}],"mark":{"type":"line","clip":true},"encoding":{"x":{"field":"r","type":"quantitative"},"y":{"field":"d","type":"quantitative"},"detail":{"field":"id"},"order":{"value":null}}},
{"data":{"name":"land"},"mark":{"type":"area","orient":"horizontal","clip":true,"color":"white"},"encoding":{"x":{"field":"l","type":"quantitative","stack":null},"x2":{"field":"r"},"y":{"field":"d","type":"quantitative"},"detail":{"field":"id"}}},
{"data":{"name":"tb"},"mark":{"type":"text","angle":90,"fontSize":13,"strokeWidth":6},"encoding":{"x":{"field":"x","type":"quantitative"},"y":{"field":"d","type":"quantitative"},"text":{"field":"t"},"stroke":{"field":"v","type":"quantitative","legend":null,"scale":{"domain":[0,0.65,1.25,1.7,2.17,2.6,3,3.6,4.5,5.2,6],"range":["#fffdcb","#e8d67f","#d5bd3f","#c4b000","#a3ab00","#7da600","#4f9300","#008000","#05602f","#0b5a30","#1a2a18"]}}}},
{"data":{"name":"tb"},"mark":{"type":"text","angle":90,"fontSize":13,"color":"#222222"},"encoding":{"x":{"field":"x","type":"quantitative"},"y":{"field":"d","type":"quantitative"},"text":{"field":"t"}}},
{"data":{"name":"cb"},"mark":"rect","encoding":{"x":{"field":"x","type":"quantitative"},"x2":{"field":"x2"},"y":{"field":"y","type":"quantitative"},"y2":{"field":"y2"},"color":{"field":"v","type":"quantitative","legend":null}}},
{"data":{"name":"cf"},"mark":{"type":"rule","color":"#aaaaaa","strokeWidth":1.5},"encoding":{"x":{"field":"x","type":"quantitative"},"x2":{"field":"x2"},"y":{"field":"y","type":"quantitative"},"y2":{"field":"y2"}}},
{"data":{"name":"cl"},"mark":{"type":"text","align":"left","baseline":"middle","fontSize":32,"color":"#333333"},"encoding":{"x":{"field":"x","type":"quantitative"},"y":{"field":"y","type":"quantitative"},"text":{"field":"t"}}},
{"data":{"values":[{"x":-11.88,"y":23,"t":"Reconstruction from SSB"}]},"mark":{"type":"text","align":"left","baseline":"alphabetic","fontSize":85,"fontWeight":"bold","fontStyle":"italic","color":"#595959"},"encoding":{"x":{"field":"x","type":"quantitative"},"y":{"field":"y","type":"quantitative"},"text":{"field":"t"}}},
{"data":{"values":[{"x":-14.85,"y":71,"t":"(b)"}]},"mark":{"type":"text","align":"left","baseline":"alphabetic","font":"Liberation Serif","fontSize":42,"fontWeight":"bold","color":"#111111"},"encoding":{"x":{"field":"x","type":"quantitative"},"y":{"field":"y","type":"quantitative"},"text":{"field":"t"}}},
{"data":{"values":[{"x":13.65,"y":-500,"t":"velocity [m/s]"}]},"mark":{"type":"text","angle":270,"fontSize":30,"color":"#444444"},"encoding":{"x":{"field":"x","type":"quantitative"},"y":{"field":"y","type":"quantitative"},"text":{"field":"t"}}}
]},
{"width":1154,"height":393,"layer":[
{"data":{"name":"rc"},"mark":{"type":"area","orient":"horizontal","clip":true},"encoding":{"x":{"field":"l","type":"quantitative","stack":null,"scale":{"domain":[-12,11.87],"nice":false,"zero":false},"axis":{"title":"Longitude [°]","values":[-10,-5,0,5,10],"labelExpr":"''+datum.value","labelPadding":12,"titlePadding":4,"zindex":1}},"x2":{"field":"r"},"y":{"field":"d","type":"quantitative","scale":{"domain":[-1000,0],"nice":false,"zero":false},"axis":{"title":"Depth [m]","values":[0,-200,-400,-600,-800,-1000],"labelExpr":"''+datum.value","labelPadding":12,"titlePadding":8,"zindex":1}},"detail":{"field":"id"},"color":{"field":"v","type":"quantitative","scale":{"domain":[0,0.65,1.25,1.7,2.17,2.6,3,3.6,4.5,5.2,6],"range":["#fffdcb","#e8d67f","#d5bd3f","#c4b000","#a3ab00","#7da600","#4f9300","#008000","#05602f","#0b5a30","#1a2a18"]},"legend":null},"order":{"value":null}}},
{"data":{"name":"uc"},"mark":{"type":"rule","clip":true},"encoding":{"x":{"field":"x","type":"quantitative"},"x2":{"field":"x2"},"y":{"field":"y","type":"quantitative"},"y2":{"field":"y2"}}},
{"data":{"name":"rc"},"transform":[{"filter":"datum.e"}],"mark":{"type":"line","clip":true},"encoding":{"x":{"field":"l","type":"quantitative"},"y":{"field":"d","type":"quantitative"},"detail":{"field":"id"},"order":{"value":null}}},
{"data":{"name":"rc"},"transform":[{"filter":"datum.e"}],"mark":{"type":"line","clip":true},"encoding":{"x":{"field":"r","type":"quantitative"},"y":{"field":"d","type":"quantitative"},"detail":{"field":"id"},"order":{"value":null}}},
{"data":{"name":"land"},"mark":{"type":"area","orient":"horizontal","clip":true,"color":"white"},"encoding":{"x":{"field":"l","type":"quantitative","stack":null},"x2":{"field":"r"},"y":{"field":"d","type":"quantitative"},"detail":{"field":"id"}}},
{"data":{"name":"tc"},"mark":{"type":"text","angle":90,"fontSize":13,"strokeWidth":6},"encoding":{"x":{"field":"x","type":"quantitative"},"y":{"field":"d","type":"quantitative"},"text":{"field":"t"},"stroke":{"field":"v","type":"quantitative","legend":null,"scale":{"domain":[0,0.65,1.25,1.7,2.17,2.6,3,3.6,4.5,5.2,6],"range":["#fffdcb","#e8d67f","#d5bd3f","#c4b000","#a3ab00","#7da600","#4f9300","#008000","#05602f","#0b5a30","#1a2a18"]}}}},
{"data":{"name":"tc"},"mark":{"type":"text","angle":90,"fontSize":13,"color":"#222222"},"encoding":{"x":{"field":"x","type":"quantitative"},"y":{"field":"d","type":"quantitative"},"text":{"field":"t"}}},
{"data":{"name":"cb"},"mark":"rect","encoding":{"x":{"field":"x","type":"quantitative"},"x2":{"field":"x2"},"y":{"field":"y","type":"quantitative"},"y2":{"field":"y2"},"color":{"field":"v","type":"quantitative","legend":null}}},
{"data":{"name":"cf"},"mark":{"type":"rule","color":"#aaaaaa","strokeWidth":1.5},"encoding":{"x":{"field":"x","type":"quantitative"},"x2":{"field":"x2"},"y":{"field":"y","type":"quantitative"},"y2":{"field":"y2"}}},
{"data":{"name":"cl"},"mark":{"type":"text","align":"left","baseline":"middle","fontSize":32,"color":"#333333"},"encoding":{"x":{"field":"x","type":"quantitative"},"y":{"field":"y","type":"quantitative"},"text":{"field":"t"}}},
{"data":{"values":[{"x":-11.35,"y":53,"t":"Reconstruction from SSV"}]},"mark":{"type":"text","align":"left","baseline":"alphabetic","fontSize":85,"fontWeight":"bold","fontStyle":"italic","color":"#595959"},"encoding":{"x":{"field":"x","type":"quantitative"},"y":{"field":"y","type":"quantitative"},"text":{"field":"t"}}},
{"data":{"values":[{"x":-14.85,"y":61,"t":"(c)"}]},"mark":{"type":"text","align":"left","baseline":"alphabetic","font":"Liberation Serif","fontSize":42,"fontWeight":"bold","color":"#111111"},"encoding":{"x":{"field":"x","type":"quantitative"},"y":{"field":"y","type":"quantitative"},"text":{"field":"t"}}},
{"data":{"values":[{"x":13.65,"y":-496,"t":"velocity [m/s]"}]},"mark":{"type":"text","angle":270,"fontSize":30,"color":"#444444"},"encoding":{"x":{"field":"x","type":"quantitative"},"y":{"field":"y","type":"quantitative"},"text":{"field":"t"}}}
]}
]},
{"align":"none","spacing":-11,"vconcat":[
{"width":1156,"height":407,"view":{"stroke":null},"layer":[
{"data":{"name":"rd"},"mark":{"type":"area","orient":"horizontal","clip":true},"encoding":{"x":{"field":"l","type":"quantitative","stack":null,"scale":{"domain":[-12,11.89],"nice":false,"zero":false},"axis":{"title":"Longitude [°]","values":[-10,-5,0,5,10],"labelExpr":"''+datum.value","labelPadding":12,"titlePadding":14,"grid":false,"zindex":1}},"x2":{"field":"r"},"y":{"field":"d","type":"quantitative","scale":{"domain":[-1000,35.6],"nice":false,"zero":false},"axis":{"title":"Depth [m]","values":[0,-200,-400,-600,-800,-1000],"labelExpr":"''+datum.value","labelPadding":12,"titlePadding":8,"zindex":1}},"detail":{"field":"id"},"color":{"field":"v","type":"quantitative","scale":{"domain":[0,0.65,1.25,1.7,2.17,2.6,3,3.6,4.5,5.2,6],"range":["#fffdcb","#e8d67f","#d5bd3f","#c4b000","#a3ab00","#7da600","#4f9300","#008000","#05602f","#0b5a30","#1a2a18"]},"legend":null},"order":{"value":null}}},
{"data":{"name":"ud"},"mark":{"type":"rule","clip":true},"encoding":{"x":{"field":"x","type":"quantitative"},"x2":{"field":"x2"},"y":{"field":"y","type":"quantitative"},"y2":{"field":"y2"}}},
{"data":{"name":"rd"},"transform":[{"filter":"datum.e"}],"mark":{"type":"line","clip":true},"encoding":{"x":{"field":"l","type":"quantitative"},"y":{"field":"d","type":"quantitative"},"detail":{"field":"id"},"order":{"value":null}}},
{"data":{"name":"rd"},"transform":[{"filter":"datum.e"}],"mark":{"type":"line","clip":true},"encoding":{"x":{"field":"r","type":"quantitative"},"y":{"field":"d","type":"quantitative"},"detail":{"field":"id"},"order":{"value":null}}},
{"data":{"name":"landd"},"mark":{"type":"area","orient":"horizontal","clip":true,"color":"white"},"encoding":{"x":{"field":"l","type":"quantitative","stack":null},"x2":{"field":"r"},"y":{"field":"d","type":"quantitative"},"detail":{"field":"id"}}},
{"data":{"name":"fd"},"mark":{"type":"rule","color":"#c6c6c6","strokeWidth":2},"encoding":{"x":{"field":"x","type":"quantitative"},"x2":{"field":"x2"},"y":{"field":"y","type":"quantitative"},"y2":{"field":"y2"}}},
{"data":{"name":"gd"},"mark":{"type":"rule","color":"#777777","opacity":0.18,"strokeWidth":2},"encoding":{"x":{"field":"x","type":"quantitative"},"x2":{"field":"x2"},"y":{"field":"y","type":"quantitative"},"y2":{"field":"y2"}}},
{"data":{"name":"td"},"mark":{"type":"text","angle":90,"fontSize":13,"strokeWidth":6},"encoding":{"x":{"field":"x","type":"quantitative"},"y":{"field":"d","type":"quantitative"},"text":{"field":"t"},"stroke":{"field":"v","type":"quantitative","legend":null,"scale":{"domain":[0,0.65,1.25,1.7,2.17,2.6,3,3.6,4.5,5.2,6],"range":["#fffdcb","#e8d67f","#d5bd3f","#c4b000","#a3ab00","#7da600","#4f9300","#008000","#05602f","#0b5a30","#1a2a18"]}}}},
{"data":{"name":"td"},"mark":{"type":"text","angle":90,"fontSize":13,"color":"#222222"},"encoding":{"x":{"field":"x","type":"quantitative"},"y":{"field":"d","type":"quantitative"},"text":{"field":"t"}}},
{"data":{"name":"cb"},"mark":"rect","encoding":{"x":{"field":"x","type":"quantitative"},"x2":{"field":"x2"},"y":{"field":"y","type":"quantitative"},"y2":{"field":"y2"},"color":{"field":"v","type":"quantitative","legend":null}}},
{"data":{"name":"cf"},"mark":{"type":"rule","color":"#aaaaaa","strokeWidth":1.5},"encoding":{"x":{"field":"x","type":"quantitative"},"x2":{"field":"x2"},"y":{"field":"y","type":"quantitative"},"y2":{"field":"y2"}}},
{"data":{"name":"cl"},"mark":{"type":"text","align":"left","baseline":"middle","fontSize":32,"color":"#333333"},"encoding":{"x":{"field":"x","type":"quantitative"},"y":{"field":"y","type":"quantitative"},"text":{"field":"t"}}},
{"data":{"values":[{"x":-12.23,"y":81,"t":"TOPAZ4 geostrophic velocity"}]},"mark":{"type":"text","align":"left","baseline":"alphabetic","fontSize":84,"fontWeight":"bold","fontStyle":"italic","color":"#595959"},"encoding":{"x":{"field":"x","type":"quantitative"},"y":{"field":"y","type":"quantitative"},"text":{"field":"t"}}},
{"data":{"values":[{"x":-14.8,"y":74,"t":"(d)"}]},"mark":{"type":"text","align":"left","baseline":"alphabetic","font":"Liberation Serif","fontSize":42,"fontWeight":"bold","color":"#111111"},"encoding":{"x":{"field":"x","type":"quantitative"},"y":{"field":"y","type":"quantitative"},"text":{"field":"t"}}},
{"data":{"values":[{"x":13.56,"y":-501,"t":"velocity [m/s]"}]},"mark":{"type":"text","angle":270,"fontSize":30,"color":"#444444"},"encoding":{"x":{"field":"x","type":"quantitative"},"y":{"field":"y","type":"quantitative"},"text":{"field":"t"}}}
]},
{"width":1158,"height":379,"view":{"stroke":null},"layer":[
{"data":{"name":"re"},"mark":{"type":"area","orient":"horizontal","clip":true},"encoding":{"x":{"field":"l","type":"quantitative","stack":null,"scale":{"domain":[-12.9,11.84],"nice":false,"zero":false},"axis":{"title":"Longitude [°]","values":[-10,-5,0,5,10],"labelExpr":"''+datum.value","labelPadding":12,"titlePadding":14,"zindex":1}},"x2":{"field":"r"},"y":{"field":"d","type":"quantitative","scale":{"domain":[-1000,0],"nice":false,"zero":false},"axis":{"title":"Depth [m]","values":[0,-200,-400,-600,-800,-1000],"labelExpr":"''+datum.value","labelPadding":12,"titlePadding":8,"offset":-42,"grid":false,"zindex":1}},"detail":{"field":"id"},"color":{"field":"v","type":"quantitative","scale":{"domain":[0,0.65,1.25,1.7,2.17,2.6,3,3.6,4.5,5.2,6],"range":["#fffdcb","#e8d67f","#d5bd3f","#c4b000","#a3ab00","#7da600","#4f9300","#008000","#05602f","#0b5a30","#1a2a18"]},"legend":null},"order":{"value":null}}},
{"data":{"name":"ue"},"mark":{"type":"rule","clip":true},"encoding":{"x":{"field":"x","type":"quantitative"},"x2":{"field":"x2"},"y":{"field":"y","type":"quantitative"},"y2":{"field":"y2"}}},
{"data":{"name":"re"},"transform":[{"filter":"datum.e"}],"mark":{"type":"line","clip":true},"encoding":{"x":{"field":"l","type":"quantitative"},"y":{"field":"d","type":"quantitative"},"detail":{"field":"id"},"order":{"value":null}}},
{"data":{"name":"re"},"transform":[{"filter":"datum.e"}],"mark":{"type":"line","clip":true},"encoding":{"x":{"field":"r","type":"quantitative"},"y":{"field":"d","type":"quantitative"},"detail":{"field":"id"},"order":{"value":null}}},
{"data":{"name":"land"},"mark":{"type":"area","orient":"horizontal","clip":true,"color":"white"},"encoding":{"x":{"field":"l","type":"quantitative","stack":null},"x2":{"field":"r"},"y":{"field":"d","type":"quantitative"},"detail":{"field":"id"}}},
{"data":{"name":"fe"},"mark":{"type":"rule","color":"#c6c6c6","strokeWidth":2},"encoding":{"x":{"field":"x","type":"quantitative"},"x2":{"field":"x2"},"y":{"field":"y","type":"quantitative"},"y2":{"field":"y2"}}},
{"data":{"name":"ge"},"mark":{"type":"rule","color":"#777777","opacity":0.18,"strokeWidth":2},"encoding":{"x":{"field":"x","type":"quantitative"},"x2":{"field":"x2"},"y":{"field":"y","type":"quantitative"},"y2":{"field":"y2"}}},
{"data":{"name":"te"},"mark":{"type":"text","angle":90,"fontSize":13,"strokeWidth":6},"encoding":{"x":{"field":"x","type":"quantitative"},"y":{"field":"d","type":"quantitative"},"text":{"field":"t"},"stroke":{"field":"v","type":"quantitative","legend":null,"scale":{"domain":[0,0.65,1.25,1.7,2.17,2.6,3,3.6,4.5,5.2,6],"range":["#fffdcb","#e8d67f","#d5bd3f","#c4b000","#a3ab00","#7da600","#4f9300","#008000","#05602f","#0b5a30","#1a2a18"]}}}},
{"data":{"name":"te"},"mark":{"type":"text","angle":90,"fontSize":13,"color":"#222222"},"encoding":{"x":{"field":"x","type":"quantitative"},"y":{"field":"d","type":"quantitative"},"text":{"field":"t"}}},
{"data":{"name":"cb"},"mark":"rect","encoding":{"x":{"field":"x","type":"quantitative"},"x2":{"field":"x2"},"y":{"field":"y","type":"quantitative"},"y2":{"field":"y2"},"color":{"field":"v","type":"quantitative","legend":null}}},
{"data":{"name":"cf"},"mark":{"type":"rule","color":"#aaaaaa","strokeWidth":1.5},"encoding":{"x":{"field":"x","type":"quantitative"},"x2":{"field":"x2"},"y":{"field":"y","type":"quantitative"},"y2":{"field":"y2"}}},
{"data":{"name":"cl"},"mark":{"type":"text","align":"left","baseline":"middle","fontSize":32,"color":"#333333"},"encoding":{"x":{"field":"x","type":"quantitative"},"y":{"field":"y","type":"quantitative"},"text":{"field":"t"}}},
{"data":{"values":[{"x":-12.3,"y":55,"t":"TOPAZ4 total velocity"}]},"mark":{"type":"text","align":"left","baseline":"alphabetic","fontSize":84,"fontWeight":"bold","fontStyle":"italic","color":"#595959"},"encoding":{"x":{"field":"x","type":"quantitative"},"y":{"field":"y","type":"quantitative"},"text":{"field":"t"}}},
{"data":{"values":[{"x":-15.78,"y":77,"t":"(e)"}]},"mark":{"type":"text","align":"left","baseline":"alphabetic","font":"Liberation Serif","fontSize":42,"fontWeight":"bold","color":"#111111"},"encoding":{"x":{"field":"x","type":"quantitative"},"y":{"field":"y","type":"quantitative"},"text":{"field":"t"}}},
{"data":{"values":[{"x":13.53,"y":-504,"t":"velocity [m/s]"}]},"mark":{"type":"text","angle":270,"fontSize":30,"color":"#444444"},"encoding":{"x":{"field":"x","type":"quantitative"},"y":{"field":"y","type":"quantitative"},"text":{"field":"t"}}}
]},
{"width":1230,"height":515,"view":{"stroke":null},"data":{"values":[{"p":1,"n":2,"t":"Figure 4:","w":"bold"},{"p":1,"n":3,"t":"Currents along Fram Strait for the 28th August.","w":"normal"},{"p":1,"n":4,"t":"a) Reconstruction from SSH, b) reconstruction from","w":"normal"},{"p":1,"n":5,"t":"SSB, c) reconstruction from SSV, d) TOPAZ4","w":"normal"},{"p":1,"n":6,"t":"geostrophic velocity, e) TOPAZ4 total velocity.","w":"normal"}]},"layer":[{"transform":[{"filter":"datum.w=='bold'"}],"mark":{"type":"text","align":"right","baseline":"alphabetic","fontSize":58.6,"fontWeight":"bold","color":"#5c5c5c"},"encoding":{"x":{"field":"p","type":"quantitative","scale":{"domain":[0,1]},"axis":null},"y":{"field":"n","type":"quantitative","scale":{"domain":[7,-0.153],"nice":false,"zero":false},"axis":null},"text":{"field":"t"}}},{"transform":[{"filter":"datum.w=='normal'"}],"mark":{"type":"text","align":"right","baseline":"alphabetic","fontSize":58.6,"color":"#5c5c5c"},"encoding":{"x":{"field":"p","type":"quantitative","axis":null},"y":{"field":"n","type":"quantitative","axis":null},"text":{"field":"t"}}}]}
]}
]}
